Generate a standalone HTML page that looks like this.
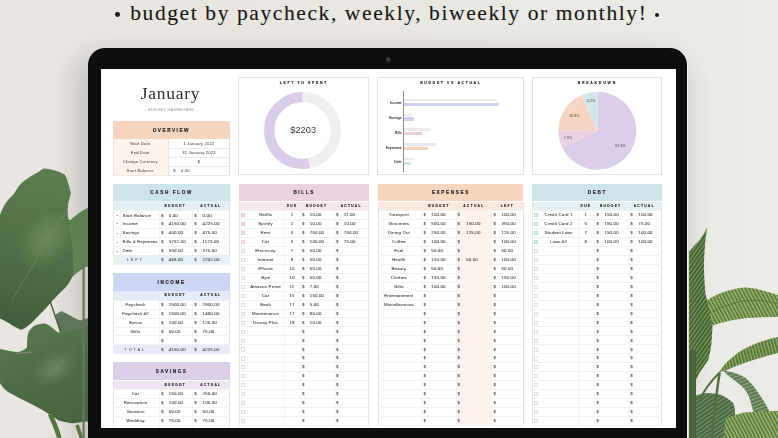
<!DOCTYPE html><html><head><meta charset="utf-8"><style>
*{margin:0;padding:0;box-sizing:border-box}
html,body{width:778px;height:438px;overflow:hidden}
body{position:relative;font-family:'Liberation Sans', sans-serif;background:#e7e4df;}
.a{position:absolute}
.t{position:absolute;white-space:nowrap;line-height:1;color:#444}
.c{position:absolute;white-space:nowrap;text-align:center;color:#444}
.hd{position:absolute;font-weight:bold;color:#1c1c1c;text-align:center;white-space:nowrap}
</style></head><body>
<div class="a" style="left:0;top:0;width:778px;height:438px;background:linear-gradient(90deg,#e9e6e1 0%,#e9e6e1 30%,#eae8e3 60%,#ecebe7 100%)"></div>
<div class="t" id="title" style="left:130.2px;top:0.7px;font-family:'Liberation Serif', serif;font-size:21.5px;letter-spacing:1.6px;color:#161616;-webkit-text-stroke:0.12px #161616;line-height:24px">budget by paycheck, weekly, biweekly or monthly!</div>
<div class="a" style="left:115.1px;top:12.4px;width:4.8px;height:4.8px;border-radius:50%;background:#1a1a1a"></div>
<div class="a" style="left:654.6px;top:12.6px;width:4.8px;height:4.8px;border-radius:50%;background:#1a1a1a"></div>
<div class="a" style="left:88px;top:48px;width:599.5px;height:430px;border-radius:17px;box-shadow:-8px 12px 30px 3px rgba(70,62,55,0.24)"></div>
<div class="a" style="left:88.2px;top:47.6px;width:600.3px;height:431px;border-radius:17.5px;background:#f6f5f2"></div>
<div class="a" style="left:87.8px;top:48px;width:599.7px;height:430px;border-radius:17px;background:#0e0e0e"></div>
<div class="a" style="left:385.5px;top:57px;width:5.5px;height:5.5px;border-radius:50%;background:radial-gradient(circle at 40% 40%,#4a4a4a,#1c1c1c 70%)"></div>
<div class="a" style="left:101px;top:69px;width:575px;height:359px;background:#fff;overflow:hidden"><div class="a" style="left:-101px;top:-69px;width:778px;height:438px;filter:blur(0.3px)">
<div class="a" style="left:125.50px;top:83.10px;width:90.00px;height:21.00px;line-height:21.00px;font-size:17.5px;color:#2e2e2e;text-align:center;font-weight:normal;letter-spacing:0.75px;white-space:nowrap;font-family:'Liberation Serif', serif;">January</div>
<div class="a" style="left:136.40px;top:108.18px;width:70.00px;height:4.44px;line-height:4.44px;font-size:3.7px;color:#8a8a8a;text-align:center;font-weight:normal;letter-spacing:0.42px;white-space:nowrap;font-family:'Liberation Sans', sans-serif;">- BUDGET DASHBOARD -</div>
<div class="a" style="left:112.70px;top:121.30px;width:117.30px;height:17.70px;background:#f6d6c1;"></div>
<div class="a" style="left:121.35px;top:128.02px;width:100.00px;height:5.76px;line-height:5.76px;font-size:4.8px;color:#1c1c1c;text-align:center;font-weight:bold;letter-spacing:1.45px;white-space:nowrap;font-family:'Liberation Sans', sans-serif;-webkit-text-stroke:0.15px #1c1c1c">OVERVIEW</div>
<div class="a" style="left:112.70px;top:139.00px;width:55.10px;height:9.10px;background:#fdf3ee;"></div>
<div class="a" style="left:112.70px;top:147.50px;width:117.30px;height:0.60px;background:#f1e9e5;"></div>
<div class="a" style="left:110.20px;top:141.74px;width:60.00px;height:4.92px;line-height:4.92px;font-size:4.1px;color:#3a3a3a;text-align:center;font-weight:normal;letter-spacing:0.2px;white-space:nowrap;font-family:'Liberation Sans', sans-serif;">Start Date</div>
<div class="a" style="left:169.00px;top:141.74px;width:60.00px;height:4.92px;line-height:4.92px;font-size:4.1px;color:#3a3a3a;text-align:center;font-weight:normal;letter-spacing:0.2px;white-space:nowrap;font-family:'Liberation Sans', sans-serif;">1 January 2022</div>
<div class="a" style="left:112.70px;top:148.10px;width:55.10px;height:9.10px;background:#fdf3ee;"></div>
<div class="a" style="left:112.70px;top:156.60px;width:117.30px;height:0.60px;background:#f1e9e5;"></div>
<div class="a" style="left:110.20px;top:150.84px;width:60.00px;height:4.92px;line-height:4.92px;font-size:4.1px;color:#3a3a3a;text-align:center;font-weight:normal;letter-spacing:0.2px;white-space:nowrap;font-family:'Liberation Sans', sans-serif;">End Date</div>
<div class="a" style="left:169.00px;top:150.84px;width:60.00px;height:4.92px;line-height:4.92px;font-size:4.1px;color:#3a3a3a;text-align:center;font-weight:normal;letter-spacing:0.2px;white-space:nowrap;font-family:'Liberation Sans', sans-serif;">31 January 2023</div>
<div class="a" style="left:112.70px;top:157.20px;width:55.10px;height:9.10px;background:#fdf3ee;"></div>
<div class="a" style="left:112.70px;top:165.70px;width:117.30px;height:0.60px;background:#f1e9e5;"></div>
<div class="a" style="left:110.20px;top:159.94px;width:60.00px;height:4.92px;line-height:4.92px;font-size:4.1px;color:#3a3a3a;text-align:center;font-weight:normal;letter-spacing:0.2px;white-space:nowrap;font-family:'Liberation Sans', sans-serif;">Change Currency</div>
<div class="a" style="left:169.00px;top:159.94px;width:60.00px;height:4.92px;line-height:4.92px;font-size:4.1px;color:#3a3a3a;text-align:center;font-weight:normal;letter-spacing:0.2px;white-space:nowrap;font-family:'Liberation Sans', sans-serif;">$</div>
<div class="a" style="left:112.70px;top:166.30px;width:55.10px;height:9.10px;background:#fdf3ee;"></div>
<div class="a" style="left:112.70px;top:174.80px;width:117.30px;height:0.60px;background:#f1e9e5;"></div>
<div class="a" style="left:110.20px;top:169.04px;width:60.00px;height:4.92px;line-height:4.92px;font-size:4.1px;color:#3a3a3a;text-align:center;font-weight:normal;letter-spacing:0.2px;white-space:nowrap;font-family:'Liberation Sans', sans-serif;">Start Balance</div>
<div class="a" style="left:167.80px;top:139.00px;width:0.60px;height:36.40px;background:#efe4df;"></div>
<div class="a" style="left:112.70px;top:139.00px;width:0.60px;height:36.40px;background:#eee2dc;"></div>
<div class="a" style="left:229.40px;top:139.00px;width:0.60px;height:36.40px;background:#eee2dc;"></div>
<div class="a" style="left:171.50px;top:169.04px;width:6.00px;height:4.92px;line-height:4.92px;font-size:4.1px;color:#3a3a3a;text-align:center;font-weight:normal;letter-spacing:0px;white-space:nowrap;font-family:'Liberation Sans', sans-serif;">$</div>
<div class="a" style="left:181.00px;top:169.04px;width:20.00px;height:4.92px;line-height:4.92px;font-size:4.1px;color:#3a3a3a;text-align:left;font-weight:normal;letter-spacing:0.2px;white-space:nowrap;font-family:'Liberation Sans', sans-serif;">0.00</div>
<div class="a" style="left:238.30px;top:76.80px;width:130.40px;height:98.40px;border:0.8px solid #e3e3e3"></div>
<div class="a" style="left:377.00px;top:76.80px;width:146.80px;height:98.60px;border:0.8px solid #e3e3e3"></div>
<div class="a" style="left:532.00px;top:76.80px;width:130.00px;height:98.40px;border:0.8px solid #e3e3e3"></div>
<div class="a" style="left:263.80px;top:80.60px;width:80.00px;height:4.20px;line-height:4.20px;font-size:3.5px;color:#1c1c1c;text-align:center;font-weight:bold;letter-spacing:1.6px;white-space:nowrap;font-family:'Liberation Sans', sans-serif;-webkit-text-stroke:0.12px #1c1c1c">LEFT TO SPENT</div>
<div class="a" style="left:405.80px;top:80.60px;width:90.00px;height:4.20px;line-height:4.20px;font-size:3.5px;color:#1c1c1c;text-align:center;font-weight:bold;letter-spacing:1.6px;white-space:nowrap;font-family:'Liberation Sans', sans-serif;-webkit-text-stroke:0.12px #1c1c1c">BUDGET VS ACTUAL</div>
<div class="a" style="left:557.30px;top:80.60px;width:80.00px;height:4.20px;line-height:4.20px;font-size:3.5px;color:#1c1c1c;text-align:center;font-weight:bold;letter-spacing:1.75px;white-space:nowrap;font-family:'Liberation Sans', sans-serif;-webkit-text-stroke:0.12px #1c1c1c">BREAKDOWN</div>
<svg class="a" style="left:0;top:0" width="778" height="438" viewBox="0 0 778 438"><circle cx="302.5" cy="130.5" r="33.35" fill="none" stroke="#efefef" stroke-width="10.3"/><circle cx="302.5" cy="130.5" r="33.35" fill="none" stroke="#d9cdea" stroke-width="10.3" stroke-dasharray="111.06 209.54" transform="rotate(-90 302.5 130.5) scale(1,-1) translate(0,-261.0)" /></svg>
<div class="a" style="left:273.20px;top:125.02px;width:60.00px;height:11.16px;line-height:11.16px;font-size:9.3px;color:#3d3d3d;text-align:center;font-weight:normal;letter-spacing:0px;white-space:nowrap;font-family:'Liberation Sans', sans-serif;">$2203</div>
<div class="a" style="left:403.10px;top:91.00px;width:0.60px;height:81.00px;background:#8a8a8a;"></div>
<div class="a" style="left:361.60px;top:101.36px;width:40.00px;height:4.08px;line-height:4.08px;font-size:3.4px;color:#333;text-align:right;font-weight:normal;letter-spacing:0.12px;white-space:nowrap;font-family:'Liberation Sans', sans-serif;-webkit-text-stroke:0.1px #333">Income</div>
<div class="a" style="left:403.80px;top:98.80px;width:93.20px;height:2.70px;background:#ebebeb;"></div>
<div class="a" style="left:403.80px;top:102.50px;width:95.20px;height:3.30px;background:#c9d0f3;"></div>
<div class="a" style="left:361.60px;top:116.16px;width:40.00px;height:4.08px;line-height:4.08px;font-size:3.4px;color:#333;text-align:right;font-weight:normal;letter-spacing:0.12px;white-space:nowrap;font-family:'Liberation Sans', sans-serif;-webkit-text-stroke:0.1px #333">Savings</div>
<div class="a" style="left:403.80px;top:113.60px;width:8.20px;height:2.70px;background:#ebebeb;"></div>
<div class="a" style="left:403.80px;top:117.30px;width:10.20px;height:3.30px;background:#d9cdea;"></div>
<div class="a" style="left:361.60px;top:130.96px;width:40.00px;height:4.08px;line-height:4.08px;font-size:3.4px;color:#333;text-align:right;font-weight:normal;letter-spacing:0.12px;white-space:nowrap;font-family:'Liberation Sans', sans-serif;-webkit-text-stroke:0.1px #333">Bills</div>
<div class="a" style="left:403.80px;top:128.40px;width:27.70px;height:2.70px;background:#ebebeb;"></div>
<div class="a" style="left:403.80px;top:132.10px;width:18.20px;height:3.30px;background:#eccfdc;"></div>
<div class="a" style="left:361.60px;top:145.66px;width:40.00px;height:4.08px;line-height:4.08px;font-size:3.4px;color:#333;text-align:right;font-weight:normal;letter-spacing:0.12px;white-space:nowrap;font-family:'Liberation Sans', sans-serif;-webkit-text-stroke:0.1px #333">Expenses</div>
<div class="a" style="left:403.80px;top:143.10px;width:32.20px;height:2.70px;background:#ebebeb;"></div>
<div class="a" style="left:403.80px;top:146.80px;width:24.70px;height:3.30px;background:#f5d3bd;"></div>
<div class="a" style="left:361.60px;top:160.36px;width:40.00px;height:4.08px;line-height:4.08px;font-size:3.4px;color:#333;text-align:right;font-weight:normal;letter-spacing:0.12px;white-space:nowrap;font-family:'Liberation Sans', sans-serif;-webkit-text-stroke:0.1px #333">Debt</div>
<div class="a" style="left:403.80px;top:157.80px;width:11.20px;height:2.70px;background:#ebebeb;"></div>
<div class="a" style="left:403.80px;top:161.50px;width:7.70px;height:3.30px;background:#cfe5ea;"></div>
<svg class="a" style="left:0;top:0" width="778" height="438" viewBox="0 0 778 438"><path d="M597.4,130.7 L597.40,91.70 A39.0,39.0 0 1 1 562.32,147.74 Z" fill="#dccfea"/><path d="M597.4,130.7 L562.32,147.74 A39.0,39.0 0 0 1 558.40,130.70 Z" fill="#ecd3e3"/><path d="M597.4,130.7 L558.40,130.70 A39.0,39.0 0 0 1 581.85,94.93 Z" fill="#f6d6c2"/><path d="M597.4,130.7 L581.85,94.93 A39.0,39.0 0 0 1 597.40,91.70 Z" fill="#d1e7ec"/></svg>
<div class="a" style="left:561.00px;top:99.04px;width:60.00px;height:4.32px;line-height:4.32px;font-size:3.6px;color:#444;text-align:center;font-weight:normal;letter-spacing:0.1px;white-space:nowrap;font-family:'Liberation Sans', sans-serif;">6.2%</div>
<div class="a" style="left:544.30px;top:114.04px;width:60.00px;height:4.32px;line-height:4.32px;font-size:3.6px;color:#444;text-align:center;font-weight:normal;letter-spacing:0.1px;white-space:nowrap;font-family:'Liberation Sans', sans-serif;">18.8%</div>
<div class="a" style="left:538.00px;top:136.24px;width:60.00px;height:4.32px;line-height:4.32px;font-size:3.6px;color:#444;text-align:center;font-weight:normal;letter-spacing:0.1px;white-space:nowrap;font-family:'Liberation Sans', sans-serif;">7.8%</div>
<div class="a" style="left:590.50px;top:143.74px;width:60.00px;height:4.32px;line-height:4.32px;font-size:3.6px;color:#444;text-align:center;font-weight:normal;letter-spacing:0.1px;white-space:nowrap;font-family:'Liberation Sans', sans-serif;">67.8%</div>
<div class="a" style="left:112.50px;top:183.80px;width:117.30px;height:17.60px;background:#cde4ea;"></div>
<div class="a" style="left:111.65px;top:190.44px;width:120.00px;height:5.52px;line-height:5.52px;font-size:4.6px;color:#1c1c1c;text-align:center;font-weight:bold;letter-spacing:1.65px;white-space:nowrap;font-family:'Liberation Sans', sans-serif;-webkit-text-stroke:0.15px #1c1c1c">CASH FLOW</div>
<div class="a" style="left:112.50px;top:201.40px;width:117.30px;height:9.20px;background:#e4f0f4;"></div>
<div class="a" style="left:112.50px;top:201.40px;width:0.60px;height:62.84px;background:#e4e4e4;"></div>
<div class="a" style="left:229.20px;top:201.40px;width:0.60px;height:62.84px;background:#e4e4e4;"></div>
<div class="a" style="left:112.50px;top:210.30px;width:117.30px;height:0.60px;background:#f3f3f3;"></div>
<div class="a" style="left:112.50px;top:219.24px;width:117.30px;height:0.60px;background:#f3f3f3;"></div>
<div class="a" style="left:112.50px;top:228.18px;width:117.30px;height:0.60px;background:#f3f3f3;"></div>
<div class="a" style="left:112.50px;top:237.12px;width:117.30px;height:0.60px;background:#f3f3f3;"></div>
<div class="a" style="left:112.50px;top:246.06px;width:117.30px;height:0.60px;background:#f3f3f3;"></div>
<div class="a" style="left:112.50px;top:255.00px;width:117.30px;height:0.60px;background:#f3f3f3;"></div>
<div class="a" style="left:112.50px;top:263.94px;width:117.30px;height:0.60px;background:#f3f3f3;"></div>
<div class="a" style="left:159.10px;top:210.60px;width:0.60px;height:53.64px;background:#f3f3f3;"></div>
<div class="a" style="left:192.40px;top:210.60px;width:0.60px;height:53.64px;background:#f3f3f3;"></div>
<div class="a" style="left:155.20px;top:204.92px;width:40.00px;height:3.96px;line-height:3.96px;font-size:3.3px;color:#1c1c1c;text-align:center;font-weight:bold;letter-spacing:1.25px;white-space:nowrap;font-family:'Liberation Sans', sans-serif;-webkit-text-stroke:0.1px #1c1c1c">BUDGET</div>
<div class="a" style="left:190.80px;top:204.92px;width:40.00px;height:3.96px;line-height:3.96px;font-size:3.3px;color:#1c1c1c;text-align:center;font-weight:bold;letter-spacing:1.25px;white-space:nowrap;font-family:'Liberation Sans', sans-serif;-webkit-text-stroke:0.1px #1c1c1c">ACTUAL</div>
<div class="a" style="left:112.50px;top:255.30px;width:117.30px;height:8.94px;background:#e4f0f4;"></div>
<div class="a" style="left:112.50px;top:210.30px;width:117.30px;height:0.60px;background:#f3f3f3;"></div>
<div class="a" style="left:112.50px;top:219.24px;width:117.30px;height:0.60px;background:#f3f3f3;"></div>
<div class="a" style="left:112.50px;top:228.18px;width:117.30px;height:0.60px;background:#f3f3f3;"></div>
<div class="a" style="left:112.50px;top:237.12px;width:117.30px;height:0.60px;background:#f3f3f3;"></div>
<div class="a" style="left:112.50px;top:246.06px;width:117.30px;height:0.60px;background:#f3f3f3;"></div>
<div class="a" style="left:120.00px;top:210.60px;width:0.60px;height:44.70px;background:#f3f3f3;"></div>
<div class="a" style="left:114.30px;top:212.53px;width:6.00px;height:5.28px;line-height:5.28px;font-size:4.4px;color:#666;text-align:center;font-weight:normal;letter-spacing:0.15px;white-space:nowrap;font-family:'Liberation Sans', sans-serif;-webkit-text-stroke:0.07px #666">&#8226;</div>
<div class="a" style="left:122.60px;top:212.53px;width:40.00px;height:5.28px;line-height:5.28px;font-size:4.4px;color:#424242;text-align:left;font-weight:normal;letter-spacing:0.15px;white-space:nowrap;font-family:'Liberation Sans', sans-serif;-webkit-text-stroke:0.07px #424242">Start Balance</div>
<div class="a" style="left:159.30px;top:212.53px;width:6.00px;height:5.28px;line-height:5.28px;font-size:4.4px;color:#424242;text-align:center;font-weight:normal;letter-spacing:0.15px;white-space:nowrap;font-family:'Liberation Sans', sans-serif;-webkit-text-stroke:0.07px #424242">$</div>
<div class="a" style="left:168.80px;top:212.53px;width:24.00px;height:5.28px;line-height:5.28px;font-size:4.4px;color:#424242;text-align:left;font-weight:normal;letter-spacing:0.15px;white-space:nowrap;font-family:'Liberation Sans', sans-serif;-webkit-text-stroke:0.07px #424242">0.00</div>
<div class="a" style="left:192.60px;top:212.53px;width:6.00px;height:5.28px;line-height:5.28px;font-size:4.4px;color:#424242;text-align:center;font-weight:normal;letter-spacing:0.15px;white-space:nowrap;font-family:'Liberation Sans', sans-serif;-webkit-text-stroke:0.07px #424242">$</div>
<div class="a" style="left:202.60px;top:212.53px;width:24.00px;height:5.28px;line-height:5.28px;font-size:4.4px;color:#424242;text-align:left;font-weight:normal;letter-spacing:0.15px;white-space:nowrap;font-family:'Liberation Sans', sans-serif;-webkit-text-stroke:0.07px #424242">0.00</div>
<div class="a" style="left:114.30px;top:221.47px;width:6.00px;height:5.28px;line-height:5.28px;font-size:4.4px;color:#666;text-align:center;font-weight:normal;letter-spacing:0.15px;white-space:nowrap;font-family:'Liberation Sans', sans-serif;-webkit-text-stroke:0.07px #666">&#8226;</div>
<div class="a" style="left:122.60px;top:221.47px;width:40.00px;height:5.28px;line-height:5.28px;font-size:4.4px;color:#424242;text-align:left;font-weight:normal;letter-spacing:0.15px;white-space:nowrap;font-family:'Liberation Sans', sans-serif;-webkit-text-stroke:0.07px #424242">Income</div>
<div class="a" style="left:159.30px;top:221.47px;width:6.00px;height:5.28px;line-height:5.28px;font-size:4.4px;color:#424242;text-align:center;font-weight:normal;letter-spacing:0.15px;white-space:nowrap;font-family:'Liberation Sans', sans-serif;-webkit-text-stroke:0.07px #424242">$</div>
<div class="a" style="left:168.80px;top:221.47px;width:24.00px;height:5.28px;line-height:5.28px;font-size:4.4px;color:#424242;text-align:left;font-weight:normal;letter-spacing:0.15px;white-space:nowrap;font-family:'Liberation Sans', sans-serif;-webkit-text-stroke:0.07px #424242">4150.00</div>
<div class="a" style="left:192.60px;top:221.47px;width:6.00px;height:5.28px;line-height:5.28px;font-size:4.4px;color:#424242;text-align:center;font-weight:normal;letter-spacing:0.15px;white-space:nowrap;font-family:'Liberation Sans', sans-serif;-webkit-text-stroke:0.07px #424242">$</div>
<div class="a" style="left:202.60px;top:221.47px;width:24.00px;height:5.28px;line-height:5.28px;font-size:4.4px;color:#424242;text-align:left;font-weight:normal;letter-spacing:0.15px;white-space:nowrap;font-family:'Liberation Sans', sans-serif;-webkit-text-stroke:0.07px #424242">4225.00</div>
<div class="a" style="left:114.30px;top:230.41px;width:6.00px;height:5.28px;line-height:5.28px;font-size:4.4px;color:#666;text-align:center;font-weight:normal;letter-spacing:0.15px;white-space:nowrap;font-family:'Liberation Sans', sans-serif;-webkit-text-stroke:0.07px #666">-</div>
<div class="a" style="left:122.60px;top:230.41px;width:40.00px;height:5.28px;line-height:5.28px;font-size:4.4px;color:#424242;text-align:left;font-weight:normal;letter-spacing:0.15px;white-space:nowrap;font-family:'Liberation Sans', sans-serif;-webkit-text-stroke:0.07px #424242">Savings</div>
<div class="a" style="left:159.30px;top:230.41px;width:6.00px;height:5.28px;line-height:5.28px;font-size:4.4px;color:#424242;text-align:center;font-weight:normal;letter-spacing:0.15px;white-space:nowrap;font-family:'Liberation Sans', sans-serif;-webkit-text-stroke:0.07px #424242">$</div>
<div class="a" style="left:168.80px;top:230.41px;width:24.00px;height:5.28px;line-height:5.28px;font-size:4.4px;color:#424242;text-align:left;font-weight:normal;letter-spacing:0.15px;white-space:nowrap;font-family:'Liberation Sans', sans-serif;-webkit-text-stroke:0.07px #424242">400.00</div>
<div class="a" style="left:192.60px;top:230.41px;width:6.00px;height:5.28px;line-height:5.28px;font-size:4.4px;color:#424242;text-align:center;font-weight:normal;letter-spacing:0.15px;white-space:nowrap;font-family:'Liberation Sans', sans-serif;-webkit-text-stroke:0.07px #424242">$</div>
<div class="a" style="left:202.60px;top:230.41px;width:24.00px;height:5.28px;line-height:5.28px;font-size:4.4px;color:#424242;text-align:left;font-weight:normal;letter-spacing:0.15px;white-space:nowrap;font-family:'Liberation Sans', sans-serif;-webkit-text-stroke:0.07px #424242">475.00</div>
<div class="a" style="left:114.30px;top:239.35px;width:6.00px;height:5.28px;line-height:5.28px;font-size:4.4px;color:#666;text-align:center;font-weight:normal;letter-spacing:0.15px;white-space:nowrap;font-family:'Liberation Sans', sans-serif;-webkit-text-stroke:0.07px #666">-</div>
<div class="a" style="left:122.60px;top:239.35px;width:40.00px;height:5.28px;line-height:5.28px;font-size:4.4px;color:#424242;text-align:left;font-weight:normal;letter-spacing:0.15px;white-space:nowrap;font-family:'Liberation Sans', sans-serif;-webkit-text-stroke:0.07px #424242">Bills &amp; Expenses</div>
<div class="a" style="left:159.30px;top:239.35px;width:6.00px;height:5.28px;line-height:5.28px;font-size:4.4px;color:#424242;text-align:center;font-weight:normal;letter-spacing:0.15px;white-space:nowrap;font-family:'Liberation Sans', sans-serif;-webkit-text-stroke:0.07px #424242">$</div>
<div class="a" style="left:168.80px;top:239.35px;width:24.00px;height:5.28px;line-height:5.28px;font-size:4.4px;color:#424242;text-align:left;font-weight:normal;letter-spacing:0.15px;white-space:nowrap;font-family:'Liberation Sans', sans-serif;-webkit-text-stroke:0.07px #424242">3732.00</div>
<div class="a" style="left:192.60px;top:239.35px;width:6.00px;height:5.28px;line-height:5.28px;font-size:4.4px;color:#424242;text-align:center;font-weight:normal;letter-spacing:0.15px;white-space:nowrap;font-family:'Liberation Sans', sans-serif;-webkit-text-stroke:0.07px #424242">$</div>
<div class="a" style="left:202.60px;top:239.35px;width:24.00px;height:5.28px;line-height:5.28px;font-size:4.4px;color:#424242;text-align:left;font-weight:normal;letter-spacing:0.15px;white-space:nowrap;font-family:'Liberation Sans', sans-serif;-webkit-text-stroke:0.07px #424242">1173.00</div>
<div class="a" style="left:114.30px;top:248.29px;width:6.00px;height:5.28px;line-height:5.28px;font-size:4.4px;color:#666;text-align:center;font-weight:normal;letter-spacing:0.15px;white-space:nowrap;font-family:'Liberation Sans', sans-serif;-webkit-text-stroke:0.07px #666">-</div>
<div class="a" style="left:122.60px;top:248.29px;width:40.00px;height:5.28px;line-height:5.28px;font-size:4.4px;color:#424242;text-align:left;font-weight:normal;letter-spacing:0.15px;white-space:nowrap;font-family:'Liberation Sans', sans-serif;-webkit-text-stroke:0.07px #424242">Debt</div>
<div class="a" style="left:159.30px;top:248.29px;width:6.00px;height:5.28px;line-height:5.28px;font-size:4.4px;color:#424242;text-align:center;font-weight:normal;letter-spacing:0.15px;white-space:nowrap;font-family:'Liberation Sans', sans-serif;-webkit-text-stroke:0.07px #424242">$</div>
<div class="a" style="left:168.80px;top:248.29px;width:24.00px;height:5.28px;line-height:5.28px;font-size:4.4px;color:#424242;text-align:left;font-weight:normal;letter-spacing:0.15px;white-space:nowrap;font-family:'Liberation Sans', sans-serif;-webkit-text-stroke:0.07px #424242">550.00</div>
<div class="a" style="left:192.60px;top:248.29px;width:6.00px;height:5.28px;line-height:5.28px;font-size:4.4px;color:#424242;text-align:center;font-weight:normal;letter-spacing:0.15px;white-space:nowrap;font-family:'Liberation Sans', sans-serif;-webkit-text-stroke:0.07px #424242">$</div>
<div class="a" style="left:202.60px;top:248.29px;width:24.00px;height:5.28px;line-height:5.28px;font-size:4.4px;color:#424242;text-align:left;font-weight:normal;letter-spacing:0.15px;white-space:nowrap;font-family:'Liberation Sans', sans-serif;-webkit-text-stroke:0.07px #424242">375.00</div>
<div class="a" style="left:115.30px;top:258.29px;width:40.00px;height:4.56px;line-height:4.56px;font-size:3.8px;color:#333;text-align:center;font-weight:normal;letter-spacing:1.9px;white-space:nowrap;font-family:'Liberation Sans', sans-serif;">LEFT</div>
<div class="a" style="left:159.30px;top:257.23px;width:6.00px;height:5.28px;line-height:5.28px;font-size:4.4px;color:#424242;text-align:center;font-weight:normal;letter-spacing:0.15px;white-space:nowrap;font-family:'Liberation Sans', sans-serif;-webkit-text-stroke:0.07px #424242">$</div>
<div class="a" style="left:168.80px;top:257.23px;width:24.00px;height:5.28px;line-height:5.28px;font-size:4.4px;color:#424242;text-align:left;font-weight:normal;letter-spacing:0.15px;white-space:nowrap;font-family:'Liberation Sans', sans-serif;-webkit-text-stroke:0.07px #424242">468.00</div>
<div class="a" style="left:192.60px;top:257.23px;width:6.00px;height:5.28px;line-height:5.28px;font-size:4.4px;color:#424242;text-align:center;font-weight:normal;letter-spacing:0.15px;white-space:nowrap;font-family:'Liberation Sans', sans-serif;-webkit-text-stroke:0.07px #424242">$</div>
<div class="a" style="left:202.60px;top:257.23px;width:24.00px;height:5.28px;line-height:5.28px;font-size:4.4px;color:#424242;text-align:left;font-weight:normal;letter-spacing:0.15px;white-space:nowrap;font-family:'Liberation Sans', sans-serif;-webkit-text-stroke:0.07px #424242">2202.00</div>
<div class="a" style="left:112.50px;top:272.90px;width:117.30px;height:17.90px;background:#cdd6f5;"></div>
<div class="a" style="left:111.65px;top:279.69px;width:120.00px;height:5.52px;line-height:5.52px;font-size:4.6px;color:#1c1c1c;text-align:center;font-weight:bold;letter-spacing:1.65px;white-space:nowrap;font-family:'Liberation Sans', sans-serif;-webkit-text-stroke:0.15px #1c1c1c">INCOME</div>
<div class="a" style="left:112.50px;top:290.80px;width:117.30px;height:9.20px;background:#e7eaf8;"></div>
<div class="a" style="left:112.50px;top:290.80px;width:0.60px;height:62.84px;background:#e4e4e4;"></div>
<div class="a" style="left:229.20px;top:290.80px;width:0.60px;height:62.84px;background:#e4e4e4;"></div>
<div class="a" style="left:112.50px;top:299.70px;width:117.30px;height:0.60px;background:#f3f3f3;"></div>
<div class="a" style="left:112.50px;top:308.64px;width:117.30px;height:0.60px;background:#f3f3f3;"></div>
<div class="a" style="left:112.50px;top:317.58px;width:117.30px;height:0.60px;background:#f3f3f3;"></div>
<div class="a" style="left:112.50px;top:326.52px;width:117.30px;height:0.60px;background:#f3f3f3;"></div>
<div class="a" style="left:112.50px;top:335.46px;width:117.30px;height:0.60px;background:#f3f3f3;"></div>
<div class="a" style="left:112.50px;top:344.40px;width:117.30px;height:0.60px;background:#f3f3f3;"></div>
<div class="a" style="left:112.50px;top:353.34px;width:117.30px;height:0.60px;background:#f3f3f3;"></div>
<div class="a" style="left:159.10px;top:300.00px;width:0.60px;height:53.64px;background:#f3f3f3;"></div>
<div class="a" style="left:192.40px;top:300.00px;width:0.60px;height:53.64px;background:#f3f3f3;"></div>
<div class="a" style="left:155.20px;top:294.32px;width:40.00px;height:3.96px;line-height:3.96px;font-size:3.3px;color:#1c1c1c;text-align:center;font-weight:bold;letter-spacing:1.25px;white-space:nowrap;font-family:'Liberation Sans', sans-serif;-webkit-text-stroke:0.1px #1c1c1c">BUDGET</div>
<div class="a" style="left:190.80px;top:294.32px;width:40.00px;height:3.96px;line-height:3.96px;font-size:3.3px;color:#1c1c1c;text-align:center;font-weight:bold;letter-spacing:1.25px;white-space:nowrap;font-family:'Liberation Sans', sans-serif;-webkit-text-stroke:0.1px #1c1c1c">ACTUAL</div>
<div class="a" style="left:112.50px;top:344.70px;width:117.30px;height:8.94px;background:#e7eaf8;"></div>
<div class="a" style="left:112.50px;top:299.70px;width:117.30px;height:0.60px;background:#f3f3f3;"></div>
<div class="a" style="left:112.50px;top:308.64px;width:117.30px;height:0.60px;background:#f3f3f3;"></div>
<div class="a" style="left:112.50px;top:317.58px;width:117.30px;height:0.60px;background:#f3f3f3;"></div>
<div class="a" style="left:112.50px;top:326.52px;width:117.30px;height:0.60px;background:#f3f3f3;"></div>
<div class="a" style="left:112.50px;top:335.46px;width:117.30px;height:0.60px;background:#f3f3f3;"></div>
<div class="a" style="left:115.50px;top:301.93px;width:40.00px;height:5.28px;line-height:5.28px;font-size:4.4px;color:#424242;text-align:center;font-weight:normal;letter-spacing:0.15px;white-space:nowrap;font-family:'Liberation Sans', sans-serif;-webkit-text-stroke:0.07px #424242">Paycheck</div>
<div class="a" style="left:159.30px;top:301.93px;width:6.00px;height:5.28px;line-height:5.28px;font-size:4.4px;color:#424242;text-align:center;font-weight:normal;letter-spacing:0.15px;white-space:nowrap;font-family:'Liberation Sans', sans-serif;-webkit-text-stroke:0.07px #424242">$</div>
<div class="a" style="left:168.80px;top:301.93px;width:24.00px;height:5.28px;line-height:5.28px;font-size:4.4px;color:#424242;text-align:left;font-weight:normal;letter-spacing:0.15px;white-space:nowrap;font-family:'Liberation Sans', sans-serif;-webkit-text-stroke:0.07px #424242">2500.00</div>
<div class="a" style="left:192.60px;top:301.93px;width:6.00px;height:5.28px;line-height:5.28px;font-size:4.4px;color:#424242;text-align:center;font-weight:normal;letter-spacing:0.15px;white-space:nowrap;font-family:'Liberation Sans', sans-serif;-webkit-text-stroke:0.07px #424242">$</div>
<div class="a" style="left:202.60px;top:301.93px;width:24.00px;height:5.28px;line-height:5.28px;font-size:4.4px;color:#424242;text-align:left;font-weight:normal;letter-spacing:0.15px;white-space:nowrap;font-family:'Liberation Sans', sans-serif;-webkit-text-stroke:0.07px #424242">2800.00</div>
<div class="a" style="left:115.50px;top:310.87px;width:40.00px;height:5.28px;line-height:5.28px;font-size:4.4px;color:#424242;text-align:center;font-weight:normal;letter-spacing:0.15px;white-space:nowrap;font-family:'Liberation Sans', sans-serif;-webkit-text-stroke:0.07px #424242">Paycheck #2</div>
<div class="a" style="left:159.30px;top:310.87px;width:6.00px;height:5.28px;line-height:5.28px;font-size:4.4px;color:#424242;text-align:center;font-weight:normal;letter-spacing:0.15px;white-space:nowrap;font-family:'Liberation Sans', sans-serif;-webkit-text-stroke:0.07px #424242">$</div>
<div class="a" style="left:168.80px;top:310.87px;width:24.00px;height:5.28px;line-height:5.28px;font-size:4.4px;color:#424242;text-align:left;font-weight:normal;letter-spacing:0.15px;white-space:nowrap;font-family:'Liberation Sans', sans-serif;-webkit-text-stroke:0.07px #424242">1500.00</div>
<div class="a" style="left:192.60px;top:310.87px;width:6.00px;height:5.28px;line-height:5.28px;font-size:4.4px;color:#424242;text-align:center;font-weight:normal;letter-spacing:0.15px;white-space:nowrap;font-family:'Liberation Sans', sans-serif;-webkit-text-stroke:0.07px #424242">$</div>
<div class="a" style="left:202.60px;top:310.87px;width:24.00px;height:5.28px;line-height:5.28px;font-size:4.4px;color:#424242;text-align:left;font-weight:normal;letter-spacing:0.15px;white-space:nowrap;font-family:'Liberation Sans', sans-serif;-webkit-text-stroke:0.07px #424242">1400.00</div>
<div class="a" style="left:115.50px;top:319.81px;width:40.00px;height:5.28px;line-height:5.28px;font-size:4.4px;color:#424242;text-align:center;font-weight:normal;letter-spacing:0.15px;white-space:nowrap;font-family:'Liberation Sans', sans-serif;-webkit-text-stroke:0.07px #424242">Bonus</div>
<div class="a" style="left:159.30px;top:319.81px;width:6.00px;height:5.28px;line-height:5.28px;font-size:4.4px;color:#424242;text-align:center;font-weight:normal;letter-spacing:0.15px;white-space:nowrap;font-family:'Liberation Sans', sans-serif;-webkit-text-stroke:0.07px #424242">$</div>
<div class="a" style="left:168.80px;top:319.81px;width:24.00px;height:5.28px;line-height:5.28px;font-size:4.4px;color:#424242;text-align:left;font-weight:normal;letter-spacing:0.15px;white-space:nowrap;font-family:'Liberation Sans', sans-serif;-webkit-text-stroke:0.07px #424242">100.00</div>
<div class="a" style="left:192.60px;top:319.81px;width:6.00px;height:5.28px;line-height:5.28px;font-size:4.4px;color:#424242;text-align:center;font-weight:normal;letter-spacing:0.15px;white-space:nowrap;font-family:'Liberation Sans', sans-serif;-webkit-text-stroke:0.07px #424242">$</div>
<div class="a" style="left:202.60px;top:319.81px;width:24.00px;height:5.28px;line-height:5.28px;font-size:4.4px;color:#424242;text-align:left;font-weight:normal;letter-spacing:0.15px;white-space:nowrap;font-family:'Liberation Sans', sans-serif;-webkit-text-stroke:0.07px #424242">120.00</div>
<div class="a" style="left:115.50px;top:328.75px;width:40.00px;height:5.28px;line-height:5.28px;font-size:4.4px;color:#424242;text-align:center;font-weight:normal;letter-spacing:0.15px;white-space:nowrap;font-family:'Liberation Sans', sans-serif;-webkit-text-stroke:0.07px #424242">Gifts</div>
<div class="a" style="left:159.30px;top:328.75px;width:6.00px;height:5.28px;line-height:5.28px;font-size:4.4px;color:#424242;text-align:center;font-weight:normal;letter-spacing:0.15px;white-space:nowrap;font-family:'Liberation Sans', sans-serif;-webkit-text-stroke:0.07px #424242">$</div>
<div class="a" style="left:168.80px;top:328.75px;width:24.00px;height:5.28px;line-height:5.28px;font-size:4.4px;color:#424242;text-align:left;font-weight:normal;letter-spacing:0.15px;white-space:nowrap;font-family:'Liberation Sans', sans-serif;-webkit-text-stroke:0.07px #424242">50.00</div>
<div class="a" style="left:192.60px;top:328.75px;width:6.00px;height:5.28px;line-height:5.28px;font-size:4.4px;color:#424242;text-align:center;font-weight:normal;letter-spacing:0.15px;white-space:nowrap;font-family:'Liberation Sans', sans-serif;-webkit-text-stroke:0.07px #424242">$</div>
<div class="a" style="left:202.60px;top:328.75px;width:24.00px;height:5.28px;line-height:5.28px;font-size:4.4px;color:#424242;text-align:left;font-weight:normal;letter-spacing:0.15px;white-space:nowrap;font-family:'Liberation Sans', sans-serif;-webkit-text-stroke:0.07px #424242">75.00</div>
<div class="a" style="left:159.30px;top:337.69px;width:6.00px;height:5.28px;line-height:5.28px;font-size:4.4px;color:#424242;text-align:center;font-weight:normal;letter-spacing:0.15px;white-space:nowrap;font-family:'Liberation Sans', sans-serif;-webkit-text-stroke:0.07px #424242">$</div>
<div class="a" style="left:168.80px;top:337.69px;width:24.00px;height:5.28px;line-height:5.28px;font-size:4.4px;color:#424242;text-align:left;font-weight:normal;letter-spacing:0.15px;white-space:nowrap;font-family:'Liberation Sans', sans-serif;-webkit-text-stroke:0.07px #424242"></div>
<div class="a" style="left:192.60px;top:337.69px;width:6.00px;height:5.28px;line-height:5.28px;font-size:4.4px;color:#424242;text-align:center;font-weight:normal;letter-spacing:0.15px;white-space:nowrap;font-family:'Liberation Sans', sans-serif;-webkit-text-stroke:0.07px #424242">$</div>
<div class="a" style="left:202.60px;top:337.69px;width:24.00px;height:5.28px;line-height:5.28px;font-size:4.4px;color:#424242;text-align:left;font-weight:normal;letter-spacing:0.15px;white-space:nowrap;font-family:'Liberation Sans', sans-serif;-webkit-text-stroke:0.07px #424242"></div>
<div class="a" style="left:115.30px;top:347.69px;width:40.00px;height:4.56px;line-height:4.56px;font-size:3.8px;color:#333;text-align:center;font-weight:normal;letter-spacing:1.9px;white-space:nowrap;font-family:'Liberation Sans', sans-serif;">TOTAL</div>
<div class="a" style="left:159.30px;top:346.63px;width:6.00px;height:5.28px;line-height:5.28px;font-size:4.4px;color:#424242;text-align:center;font-weight:normal;letter-spacing:0.15px;white-space:nowrap;font-family:'Liberation Sans', sans-serif;-webkit-text-stroke:0.07px #424242">$</div>
<div class="a" style="left:168.80px;top:346.63px;width:24.00px;height:5.28px;line-height:5.28px;font-size:4.4px;color:#424242;text-align:left;font-weight:normal;letter-spacing:0.15px;white-space:nowrap;font-family:'Liberation Sans', sans-serif;-webkit-text-stroke:0.07px #424242">4150.00</div>
<div class="a" style="left:192.60px;top:346.63px;width:6.00px;height:5.28px;line-height:5.28px;font-size:4.4px;color:#424242;text-align:center;font-weight:normal;letter-spacing:0.15px;white-space:nowrap;font-family:'Liberation Sans', sans-serif;-webkit-text-stroke:0.07px #424242">$</div>
<div class="a" style="left:202.60px;top:346.63px;width:24.00px;height:5.28px;line-height:5.28px;font-size:4.4px;color:#424242;text-align:left;font-weight:normal;letter-spacing:0.15px;white-space:nowrap;font-family:'Liberation Sans', sans-serif;-webkit-text-stroke:0.07px #424242">4225.00</div>
<div class="a" style="left:112.50px;top:362.20px;width:117.30px;height:18.30px;background:#dccfea;"></div>
<div class="a" style="left:111.65px;top:369.19px;width:120.00px;height:5.52px;line-height:5.52px;font-size:4.6px;color:#1c1c1c;text-align:center;font-weight:bold;letter-spacing:1.65px;white-space:nowrap;font-family:'Liberation Sans', sans-serif;-webkit-text-stroke:0.15px #1c1c1c">SAVINGS</div>
<div class="a" style="left:112.50px;top:380.50px;width:117.30px;height:8.80px;background:#ede5f3;"></div>
<div class="a" style="left:112.50px;top:380.50px;width:0.60px;height:53.50px;background:#e4e4e4;"></div>
<div class="a" style="left:229.20px;top:380.50px;width:0.60px;height:53.50px;background:#e4e4e4;"></div>
<div class="a" style="left:112.50px;top:389.00px;width:117.30px;height:0.60px;background:#f3f3f3;"></div>
<div class="a" style="left:112.50px;top:397.94px;width:117.30px;height:0.60px;background:#f3f3f3;"></div>
<div class="a" style="left:112.50px;top:406.88px;width:117.30px;height:0.60px;background:#f3f3f3;"></div>
<div class="a" style="left:112.50px;top:415.82px;width:117.30px;height:0.60px;background:#f3f3f3;"></div>
<div class="a" style="left:112.50px;top:424.76px;width:117.30px;height:0.60px;background:#f3f3f3;"></div>
<div class="a" style="left:112.50px;top:433.70px;width:117.30px;height:0.60px;background:#f3f3f3;"></div>
<div class="a" style="left:159.10px;top:389.30px;width:0.60px;height:44.70px;background:#f3f3f3;"></div>
<div class="a" style="left:192.40px;top:389.30px;width:0.60px;height:44.70px;background:#f3f3f3;"></div>
<div class="a" style="left:155.20px;top:383.82px;width:40.00px;height:3.96px;line-height:3.96px;font-size:3.3px;color:#1c1c1c;text-align:center;font-weight:bold;letter-spacing:1.25px;white-space:nowrap;font-family:'Liberation Sans', sans-serif;-webkit-text-stroke:0.1px #1c1c1c">BUDGET</div>
<div class="a" style="left:190.80px;top:383.82px;width:40.00px;height:3.96px;line-height:3.96px;font-size:3.3px;color:#1c1c1c;text-align:center;font-weight:bold;letter-spacing:1.25px;white-space:nowrap;font-family:'Liberation Sans', sans-serif;-webkit-text-stroke:0.1px #1c1c1c">ACTUAL</div>
<div class="a" style="left:115.50px;top:391.23px;width:40.00px;height:5.28px;line-height:5.28px;font-size:4.4px;color:#424242;text-align:center;font-weight:normal;letter-spacing:0.15px;white-space:nowrap;font-family:'Liberation Sans', sans-serif;-webkit-text-stroke:0.07px #424242">Car</div>
<div class="a" style="left:159.30px;top:391.23px;width:6.00px;height:5.28px;line-height:5.28px;font-size:4.4px;color:#424242;text-align:center;font-weight:normal;letter-spacing:0.15px;white-space:nowrap;font-family:'Liberation Sans', sans-serif;-webkit-text-stroke:0.07px #424242">$</div>
<div class="a" style="left:168.80px;top:391.23px;width:24.00px;height:5.28px;line-height:5.28px;font-size:4.4px;color:#424242;text-align:left;font-weight:normal;letter-spacing:0.15px;white-space:nowrap;font-family:'Liberation Sans', sans-serif;-webkit-text-stroke:0.07px #424242">150.00</div>
<div class="a" style="left:192.60px;top:391.23px;width:6.00px;height:5.28px;line-height:5.28px;font-size:4.4px;color:#424242;text-align:center;font-weight:normal;letter-spacing:0.15px;white-space:nowrap;font-family:'Liberation Sans', sans-serif;-webkit-text-stroke:0.07px #424242">$</div>
<div class="a" style="left:202.60px;top:391.23px;width:24.00px;height:5.28px;line-height:5.28px;font-size:4.4px;color:#424242;text-align:left;font-weight:normal;letter-spacing:0.15px;white-space:nowrap;font-family:'Liberation Sans', sans-serif;-webkit-text-stroke:0.07px #424242">250.00</div>
<div class="a" style="left:115.50px;top:400.17px;width:40.00px;height:5.28px;line-height:5.28px;font-size:4.4px;color:#424242;text-align:center;font-weight:normal;letter-spacing:0.15px;white-space:nowrap;font-family:'Liberation Sans', sans-serif;-webkit-text-stroke:0.07px #424242">Renovation</div>
<div class="a" style="left:159.30px;top:400.17px;width:6.00px;height:5.28px;line-height:5.28px;font-size:4.4px;color:#424242;text-align:center;font-weight:normal;letter-spacing:0.15px;white-space:nowrap;font-family:'Liberation Sans', sans-serif;-webkit-text-stroke:0.07px #424242">$</div>
<div class="a" style="left:168.80px;top:400.17px;width:24.00px;height:5.28px;line-height:5.28px;font-size:4.4px;color:#424242;text-align:left;font-weight:normal;letter-spacing:0.15px;white-space:nowrap;font-family:'Liberation Sans', sans-serif;-webkit-text-stroke:0.07px #424242">100.00</div>
<div class="a" style="left:192.60px;top:400.17px;width:6.00px;height:5.28px;line-height:5.28px;font-size:4.4px;color:#424242;text-align:center;font-weight:normal;letter-spacing:0.15px;white-space:nowrap;font-family:'Liberation Sans', sans-serif;-webkit-text-stroke:0.07px #424242">$</div>
<div class="a" style="left:202.60px;top:400.17px;width:24.00px;height:5.28px;line-height:5.28px;font-size:4.4px;color:#424242;text-align:left;font-weight:normal;letter-spacing:0.15px;white-space:nowrap;font-family:'Liberation Sans', sans-serif;-webkit-text-stroke:0.07px #424242">100.00</div>
<div class="a" style="left:115.50px;top:409.11px;width:40.00px;height:5.28px;line-height:5.28px;font-size:4.4px;color:#424242;text-align:center;font-weight:normal;letter-spacing:0.15px;white-space:nowrap;font-family:'Liberation Sans', sans-serif;-webkit-text-stroke:0.07px #424242">Vacation</div>
<div class="a" style="left:159.30px;top:409.11px;width:6.00px;height:5.28px;line-height:5.28px;font-size:4.4px;color:#424242;text-align:center;font-weight:normal;letter-spacing:0.15px;white-space:nowrap;font-family:'Liberation Sans', sans-serif;-webkit-text-stroke:0.07px #424242">$</div>
<div class="a" style="left:168.80px;top:409.11px;width:24.00px;height:5.28px;line-height:5.28px;font-size:4.4px;color:#424242;text-align:left;font-weight:normal;letter-spacing:0.15px;white-space:nowrap;font-family:'Liberation Sans', sans-serif;-webkit-text-stroke:0.07px #424242">50.00</div>
<div class="a" style="left:192.60px;top:409.11px;width:6.00px;height:5.28px;line-height:5.28px;font-size:4.4px;color:#424242;text-align:center;font-weight:normal;letter-spacing:0.15px;white-space:nowrap;font-family:'Liberation Sans', sans-serif;-webkit-text-stroke:0.07px #424242">$</div>
<div class="a" style="left:202.60px;top:409.11px;width:24.00px;height:5.28px;line-height:5.28px;font-size:4.4px;color:#424242;text-align:left;font-weight:normal;letter-spacing:0.15px;white-space:nowrap;font-family:'Liberation Sans', sans-serif;-webkit-text-stroke:0.07px #424242">50.00</div>
<div class="a" style="left:115.50px;top:418.05px;width:40.00px;height:5.28px;line-height:5.28px;font-size:4.4px;color:#424242;text-align:center;font-weight:normal;letter-spacing:0.15px;white-space:nowrap;font-family:'Liberation Sans', sans-serif;-webkit-text-stroke:0.07px #424242">Wedding</div>
<div class="a" style="left:159.30px;top:418.05px;width:6.00px;height:5.28px;line-height:5.28px;font-size:4.4px;color:#424242;text-align:center;font-weight:normal;letter-spacing:0.15px;white-space:nowrap;font-family:'Liberation Sans', sans-serif;-webkit-text-stroke:0.07px #424242">$</div>
<div class="a" style="left:168.80px;top:418.05px;width:24.00px;height:5.28px;line-height:5.28px;font-size:4.4px;color:#424242;text-align:left;font-weight:normal;letter-spacing:0.15px;white-space:nowrap;font-family:'Liberation Sans', sans-serif;-webkit-text-stroke:0.07px #424242">75.00</div>
<div class="a" style="left:192.60px;top:418.05px;width:6.00px;height:5.28px;line-height:5.28px;font-size:4.4px;color:#424242;text-align:center;font-weight:normal;letter-spacing:0.15px;white-space:nowrap;font-family:'Liberation Sans', sans-serif;-webkit-text-stroke:0.07px #424242">$</div>
<div class="a" style="left:202.60px;top:418.05px;width:24.00px;height:5.28px;line-height:5.28px;font-size:4.4px;color:#424242;text-align:left;font-weight:normal;letter-spacing:0.15px;white-space:nowrap;font-family:'Liberation Sans', sans-serif;-webkit-text-stroke:0.07px #424242">75.00</div>
<div class="a" style="left:159.30px;top:426.99px;width:6.00px;height:5.28px;line-height:5.28px;font-size:4.4px;color:#424242;text-align:center;font-weight:normal;letter-spacing:0.15px;white-space:nowrap;font-family:'Liberation Sans', sans-serif;-webkit-text-stroke:0.07px #424242">$</div>
<div class="a" style="left:168.80px;top:426.99px;width:24.00px;height:5.28px;line-height:5.28px;font-size:4.4px;color:#424242;text-align:left;font-weight:normal;letter-spacing:0.15px;white-space:nowrap;font-family:'Liberation Sans', sans-serif;-webkit-text-stroke:0.07px #424242"></div>
<div class="a" style="left:192.60px;top:426.99px;width:6.00px;height:5.28px;line-height:5.28px;font-size:4.4px;color:#424242;text-align:center;font-weight:normal;letter-spacing:0.15px;white-space:nowrap;font-family:'Liberation Sans', sans-serif;-webkit-text-stroke:0.07px #424242">$</div>
<div class="a" style="left:202.60px;top:426.99px;width:24.00px;height:5.28px;line-height:5.28px;font-size:4.4px;color:#424242;text-align:left;font-weight:normal;letter-spacing:0.15px;white-space:nowrap;font-family:'Liberation Sans', sans-serif;-webkit-text-stroke:0.07px #424242"></div>
<div class="a" style="left:238.60px;top:183.80px;width:130.10px;height:17.70px;background:#efd2df;"></div>
<div class="a" style="left:244.15px;top:190.49px;width:120.00px;height:5.52px;line-height:5.52px;font-size:4.6px;color:#1c1c1c;text-align:center;font-weight:bold;letter-spacing:1.65px;white-space:nowrap;font-family:'Liberation Sans', sans-serif;-webkit-text-stroke:0.15px #1c1c1c">BILLS</div>
<div class="a" style="left:238.60px;top:201.50px;width:130.10px;height:9.00px;background:#f6e7ee;"></div>
<div class="a" style="left:238.60px;top:201.50px;width:0.60px;height:223.56px;background:#e4e4e4;"></div>
<div class="a" style="left:368.10px;top:201.50px;width:0.60px;height:223.56px;background:#e4e4e4;"></div>
<div class="a" style="left:238.60px;top:210.20px;width:130.10px;height:0.60px;background:#f3f3f3;"></div>
<div class="a" style="left:238.60px;top:219.14px;width:130.10px;height:0.60px;background:#f3f3f3;"></div>
<div class="a" style="left:238.60px;top:228.08px;width:130.10px;height:0.60px;background:#f3f3f3;"></div>
<div class="a" style="left:238.60px;top:237.02px;width:130.10px;height:0.60px;background:#f3f3f3;"></div>
<div class="a" style="left:238.60px;top:245.96px;width:130.10px;height:0.60px;background:#f3f3f3;"></div>
<div class="a" style="left:238.60px;top:254.90px;width:130.10px;height:0.60px;background:#f3f3f3;"></div>
<div class="a" style="left:238.60px;top:263.84px;width:130.10px;height:0.60px;background:#f3f3f3;"></div>
<div class="a" style="left:238.60px;top:272.78px;width:130.10px;height:0.60px;background:#f3f3f3;"></div>
<div class="a" style="left:238.60px;top:281.72px;width:130.10px;height:0.60px;background:#f3f3f3;"></div>
<div class="a" style="left:238.60px;top:290.66px;width:130.10px;height:0.60px;background:#f3f3f3;"></div>
<div class="a" style="left:238.60px;top:299.60px;width:130.10px;height:0.60px;background:#f3f3f3;"></div>
<div class="a" style="left:238.60px;top:308.54px;width:130.10px;height:0.60px;background:#f3f3f3;"></div>
<div class="a" style="left:238.60px;top:317.48px;width:130.10px;height:0.60px;background:#f3f3f3;"></div>
<div class="a" style="left:238.60px;top:326.42px;width:130.10px;height:0.60px;background:#f3f3f3;"></div>
<div class="a" style="left:238.60px;top:335.36px;width:130.10px;height:0.60px;background:#f3f3f3;"></div>
<div class="a" style="left:238.60px;top:344.30px;width:130.10px;height:0.60px;background:#f3f3f3;"></div>
<div class="a" style="left:238.60px;top:353.24px;width:130.10px;height:0.60px;background:#f3f3f3;"></div>
<div class="a" style="left:238.60px;top:362.18px;width:130.10px;height:0.60px;background:#f3f3f3;"></div>
<div class="a" style="left:238.60px;top:371.12px;width:130.10px;height:0.60px;background:#f3f3f3;"></div>
<div class="a" style="left:238.60px;top:380.06px;width:130.10px;height:0.60px;background:#f3f3f3;"></div>
<div class="a" style="left:238.60px;top:389.00px;width:130.10px;height:0.60px;background:#f3f3f3;"></div>
<div class="a" style="left:238.60px;top:397.94px;width:130.10px;height:0.60px;background:#f3f3f3;"></div>
<div class="a" style="left:238.60px;top:406.88px;width:130.10px;height:0.60px;background:#f3f3f3;"></div>
<div class="a" style="left:238.60px;top:415.82px;width:130.10px;height:0.60px;background:#f3f3f3;"></div>
<div class="a" style="left:238.60px;top:424.76px;width:130.10px;height:0.60px;background:#f3f3f3;"></div>
<div class="a" style="left:284.20px;top:210.50px;width:0.60px;height:214.56px;background:#f3f3f3;"></div>
<div class="a" style="left:299.80px;top:210.50px;width:0.60px;height:214.56px;background:#f3f3f3;"></div>
<div class="a" style="left:333.80px;top:210.50px;width:0.60px;height:214.56px;background:#f3f3f3;"></div>
<div class="a" style="left:272.00px;top:204.92px;width:40.00px;height:3.96px;line-height:3.96px;font-size:3.3px;color:#1c1c1c;text-align:center;font-weight:bold;letter-spacing:1.25px;white-space:nowrap;font-family:'Liberation Sans', sans-serif;-webkit-text-stroke:0.1px #1c1c1c">DUE</div>
<div class="a" style="left:296.60px;top:204.92px;width:40.00px;height:3.96px;line-height:3.96px;font-size:3.3px;color:#1c1c1c;text-align:center;font-weight:bold;letter-spacing:1.25px;white-space:nowrap;font-family:'Liberation Sans', sans-serif;-webkit-text-stroke:0.1px #1c1c1c">BUDGET</div>
<div class="a" style="left:331.20px;top:204.92px;width:40.00px;height:3.96px;line-height:3.96px;font-size:3.3px;color:#1c1c1c;text-align:center;font-weight:bold;letter-spacing:1.25px;white-space:nowrap;font-family:'Liberation Sans', sans-serif;-webkit-text-stroke:0.1px #1c1c1c">ACTUAL</div>
<div class="a" style="left:241.0px;top:213.37px;width:4.1px;height:4.1px;border:0.5px solid #e8c6d4;background:#f5e3eb"></div>
<div class="a" style="left:245.50px;top:212.43px;width:40.00px;height:5.28px;line-height:5.28px;font-size:4.4px;color:#424242;text-align:center;font-weight:normal;letter-spacing:0.15px;white-space:nowrap;font-family:'Liberation Sans', sans-serif;-webkit-text-stroke:0.07px #424242">Netflix</div>
<div class="a" style="left:287.00px;top:212.43px;width:10.00px;height:5.28px;line-height:5.28px;font-size:4.4px;color:#424242;text-align:center;font-weight:normal;letter-spacing:0.15px;white-space:nowrap;font-family:'Liberation Sans', sans-serif;-webkit-text-stroke:0.07px #424242">1</div>
<div class="a" style="left:300.30px;top:212.43px;width:6.00px;height:5.28px;line-height:5.28px;font-size:4.4px;color:#424242;text-align:center;font-weight:normal;letter-spacing:0.15px;white-space:nowrap;font-family:'Liberation Sans', sans-serif;-webkit-text-stroke:0.07px #424242">$</div>
<div class="a" style="left:309.80px;top:212.43px;width:24.00px;height:5.28px;line-height:5.28px;font-size:4.4px;color:#424242;text-align:left;font-weight:normal;letter-spacing:0.15px;white-space:nowrap;font-family:'Liberation Sans', sans-serif;-webkit-text-stroke:0.07px #424242">10.00</div>
<div class="a" style="left:334.20px;top:212.43px;width:6.00px;height:5.28px;line-height:5.28px;font-size:4.4px;color:#424242;text-align:center;font-weight:normal;letter-spacing:0.15px;white-space:nowrap;font-family:'Liberation Sans', sans-serif;-webkit-text-stroke:0.07px #424242">$</div>
<div class="a" style="left:343.80px;top:212.43px;width:24.00px;height:5.28px;line-height:5.28px;font-size:4.4px;color:#424242;text-align:left;font-weight:normal;letter-spacing:0.15px;white-space:nowrap;font-family:'Liberation Sans', sans-serif;-webkit-text-stroke:0.07px #424242">11.00</div>
<div class="a" style="left:241.0px;top:222.31px;width:4.1px;height:4.1px;border:0.5px solid #e8c6d4;background:#f5e3eb"></div>
<div class="a" style="left:245.50px;top:221.37px;width:40.00px;height:5.28px;line-height:5.28px;font-size:4.4px;color:#424242;text-align:center;font-weight:normal;letter-spacing:0.15px;white-space:nowrap;font-family:'Liberation Sans', sans-serif;-webkit-text-stroke:0.07px #424242">Spotify</div>
<div class="a" style="left:287.00px;top:221.37px;width:10.00px;height:5.28px;line-height:5.28px;font-size:4.4px;color:#424242;text-align:center;font-weight:normal;letter-spacing:0.15px;white-space:nowrap;font-family:'Liberation Sans', sans-serif;-webkit-text-stroke:0.07px #424242">2</div>
<div class="a" style="left:300.30px;top:221.37px;width:6.00px;height:5.28px;line-height:5.28px;font-size:4.4px;color:#424242;text-align:center;font-weight:normal;letter-spacing:0.15px;white-space:nowrap;font-family:'Liberation Sans', sans-serif;-webkit-text-stroke:0.07px #424242">$</div>
<div class="a" style="left:309.80px;top:221.37px;width:24.00px;height:5.28px;line-height:5.28px;font-size:4.4px;color:#424242;text-align:left;font-weight:normal;letter-spacing:0.15px;white-space:nowrap;font-family:'Liberation Sans', sans-serif;-webkit-text-stroke:0.07px #424242">10.00</div>
<div class="a" style="left:334.20px;top:221.37px;width:6.00px;height:5.28px;line-height:5.28px;font-size:4.4px;color:#424242;text-align:center;font-weight:normal;letter-spacing:0.15px;white-space:nowrap;font-family:'Liberation Sans', sans-serif;-webkit-text-stroke:0.07px #424242">$</div>
<div class="a" style="left:343.80px;top:221.37px;width:24.00px;height:5.28px;line-height:5.28px;font-size:4.4px;color:#424242;text-align:left;font-weight:normal;letter-spacing:0.15px;white-space:nowrap;font-family:'Liberation Sans', sans-serif;-webkit-text-stroke:0.07px #424242">10.00</div>
<div class="a" style="left:241.0px;top:231.25px;width:4.1px;height:4.1px;border:0.5px solid #e8c6d4;background:#f5e3eb"></div>
<div class="a" style="left:245.50px;top:230.31px;width:40.00px;height:5.28px;line-height:5.28px;font-size:4.4px;color:#424242;text-align:center;font-weight:normal;letter-spacing:0.15px;white-space:nowrap;font-family:'Liberation Sans', sans-serif;-webkit-text-stroke:0.07px #424242">Rent</div>
<div class="a" style="left:287.00px;top:230.31px;width:10.00px;height:5.28px;line-height:5.28px;font-size:4.4px;color:#424242;text-align:center;font-weight:normal;letter-spacing:0.15px;white-space:nowrap;font-family:'Liberation Sans', sans-serif;-webkit-text-stroke:0.07px #424242">3</div>
<div class="a" style="left:300.30px;top:230.31px;width:6.00px;height:5.28px;line-height:5.28px;font-size:4.4px;color:#424242;text-align:center;font-weight:normal;letter-spacing:0.15px;white-space:nowrap;font-family:'Liberation Sans', sans-serif;-webkit-text-stroke:0.07px #424242">$</div>
<div class="a" style="left:309.80px;top:230.31px;width:24.00px;height:5.28px;line-height:5.28px;font-size:4.4px;color:#424242;text-align:left;font-weight:normal;letter-spacing:0.15px;white-space:nowrap;font-family:'Liberation Sans', sans-serif;-webkit-text-stroke:0.07px #424242">750.00</div>
<div class="a" style="left:334.20px;top:230.31px;width:6.00px;height:5.28px;line-height:5.28px;font-size:4.4px;color:#424242;text-align:center;font-weight:normal;letter-spacing:0.15px;white-space:nowrap;font-family:'Liberation Sans', sans-serif;-webkit-text-stroke:0.07px #424242">$</div>
<div class="a" style="left:343.80px;top:230.31px;width:24.00px;height:5.28px;line-height:5.28px;font-size:4.4px;color:#424242;text-align:left;font-weight:normal;letter-spacing:0.15px;white-space:nowrap;font-family:'Liberation Sans', sans-serif;-webkit-text-stroke:0.07px #424242">750.00</div>
<div class="a" style="left:241.0px;top:240.19px;width:4.1px;height:4.1px;border:0.5px solid #e8c6d4;background:#f5e3eb"></div>
<div class="a" style="left:245.50px;top:239.25px;width:40.00px;height:5.28px;line-height:5.28px;font-size:4.4px;color:#424242;text-align:center;font-weight:normal;letter-spacing:0.15px;white-space:nowrap;font-family:'Liberation Sans', sans-serif;-webkit-text-stroke:0.07px #424242">Car</div>
<div class="a" style="left:287.00px;top:239.25px;width:10.00px;height:5.28px;line-height:5.28px;font-size:4.4px;color:#424242;text-align:center;font-weight:normal;letter-spacing:0.15px;white-space:nowrap;font-family:'Liberation Sans', sans-serif;-webkit-text-stroke:0.07px #424242">5</div>
<div class="a" style="left:300.30px;top:239.25px;width:6.00px;height:5.28px;line-height:5.28px;font-size:4.4px;color:#424242;text-align:center;font-weight:normal;letter-spacing:0.15px;white-space:nowrap;font-family:'Liberation Sans', sans-serif;-webkit-text-stroke:0.07px #424242">$</div>
<div class="a" style="left:309.80px;top:239.25px;width:24.00px;height:5.28px;line-height:5.28px;font-size:4.4px;color:#424242;text-align:left;font-weight:normal;letter-spacing:0.15px;white-space:nowrap;font-family:'Liberation Sans', sans-serif;-webkit-text-stroke:0.07px #424242">100.00</div>
<div class="a" style="left:334.20px;top:239.25px;width:6.00px;height:5.28px;line-height:5.28px;font-size:4.4px;color:#424242;text-align:center;font-weight:normal;letter-spacing:0.15px;white-space:nowrap;font-family:'Liberation Sans', sans-serif;-webkit-text-stroke:0.07px #424242">$</div>
<div class="a" style="left:343.80px;top:239.25px;width:24.00px;height:5.28px;line-height:5.28px;font-size:4.4px;color:#424242;text-align:left;font-weight:normal;letter-spacing:0.15px;white-space:nowrap;font-family:'Liberation Sans', sans-serif;-webkit-text-stroke:0.07px #424242">75.00</div>
<div class="a" style="left:241.0px;top:249.13px;width:4.1px;height:4.1px;border:0.5px solid #dedede;background:#fff"></div>
<div class="a" style="left:245.50px;top:248.19px;width:40.00px;height:5.28px;line-height:5.28px;font-size:4.4px;color:#424242;text-align:center;font-weight:normal;letter-spacing:0.15px;white-space:nowrap;font-family:'Liberation Sans', sans-serif;-webkit-text-stroke:0.07px #424242">Electricity</div>
<div class="a" style="left:287.00px;top:248.19px;width:10.00px;height:5.28px;line-height:5.28px;font-size:4.4px;color:#424242;text-align:center;font-weight:normal;letter-spacing:0.15px;white-space:nowrap;font-family:'Liberation Sans', sans-serif;-webkit-text-stroke:0.07px #424242">7</div>
<div class="a" style="left:300.30px;top:248.19px;width:6.00px;height:5.28px;line-height:5.28px;font-size:4.4px;color:#424242;text-align:center;font-weight:normal;letter-spacing:0.15px;white-space:nowrap;font-family:'Liberation Sans', sans-serif;-webkit-text-stroke:0.07px #424242">$</div>
<div class="a" style="left:309.80px;top:248.19px;width:24.00px;height:5.28px;line-height:5.28px;font-size:4.4px;color:#424242;text-align:left;font-weight:normal;letter-spacing:0.15px;white-space:nowrap;font-family:'Liberation Sans', sans-serif;-webkit-text-stroke:0.07px #424242">50.00</div>
<div class="a" style="left:334.20px;top:248.19px;width:6.00px;height:5.28px;line-height:5.28px;font-size:4.4px;color:#424242;text-align:center;font-weight:normal;letter-spacing:0.15px;white-space:nowrap;font-family:'Liberation Sans', sans-serif;-webkit-text-stroke:0.07px #424242">$</div>
<div class="a" style="left:343.80px;top:248.19px;width:24.00px;height:5.28px;line-height:5.28px;font-size:4.4px;color:#424242;text-align:left;font-weight:normal;letter-spacing:0.15px;white-space:nowrap;font-family:'Liberation Sans', sans-serif;-webkit-text-stroke:0.07px #424242"></div>
<div class="a" style="left:241.0px;top:258.07px;width:4.1px;height:4.1px;border:0.5px solid #dedede;background:#fff"></div>
<div class="a" style="left:245.50px;top:257.13px;width:40.00px;height:5.28px;line-height:5.28px;font-size:4.4px;color:#424242;text-align:center;font-weight:normal;letter-spacing:0.15px;white-space:nowrap;font-family:'Liberation Sans', sans-serif;-webkit-text-stroke:0.07px #424242">Internet</div>
<div class="a" style="left:287.00px;top:257.13px;width:10.00px;height:5.28px;line-height:5.28px;font-size:4.4px;color:#424242;text-align:center;font-weight:normal;letter-spacing:0.15px;white-space:nowrap;font-family:'Liberation Sans', sans-serif;-webkit-text-stroke:0.07px #424242">9</div>
<div class="a" style="left:300.30px;top:257.13px;width:6.00px;height:5.28px;line-height:5.28px;font-size:4.4px;color:#424242;text-align:center;font-weight:normal;letter-spacing:0.15px;white-space:nowrap;font-family:'Liberation Sans', sans-serif;-webkit-text-stroke:0.07px #424242">$</div>
<div class="a" style="left:309.80px;top:257.13px;width:24.00px;height:5.28px;line-height:5.28px;font-size:4.4px;color:#424242;text-align:left;font-weight:normal;letter-spacing:0.15px;white-space:nowrap;font-family:'Liberation Sans', sans-serif;-webkit-text-stroke:0.07px #424242">50.00</div>
<div class="a" style="left:334.20px;top:257.13px;width:6.00px;height:5.28px;line-height:5.28px;font-size:4.4px;color:#424242;text-align:center;font-weight:normal;letter-spacing:0.15px;white-space:nowrap;font-family:'Liberation Sans', sans-serif;-webkit-text-stroke:0.07px #424242">$</div>
<div class="a" style="left:343.80px;top:257.13px;width:24.00px;height:5.28px;line-height:5.28px;font-size:4.4px;color:#424242;text-align:left;font-weight:normal;letter-spacing:0.15px;white-space:nowrap;font-family:'Liberation Sans', sans-serif;-webkit-text-stroke:0.07px #424242"></div>
<div class="a" style="left:241.0px;top:267.01px;width:4.1px;height:4.1px;border:0.5px solid #dedede;background:#fff"></div>
<div class="a" style="left:245.50px;top:266.07px;width:40.00px;height:5.28px;line-height:5.28px;font-size:4.4px;color:#424242;text-align:center;font-weight:normal;letter-spacing:0.15px;white-space:nowrap;font-family:'Liberation Sans', sans-serif;-webkit-text-stroke:0.07px #424242">iPhone</div>
<div class="a" style="left:287.00px;top:266.07px;width:10.00px;height:5.28px;line-height:5.28px;font-size:4.4px;color:#424242;text-align:center;font-weight:normal;letter-spacing:0.15px;white-space:nowrap;font-family:'Liberation Sans', sans-serif;-webkit-text-stroke:0.07px #424242">10</div>
<div class="a" style="left:300.30px;top:266.07px;width:6.00px;height:5.28px;line-height:5.28px;font-size:4.4px;color:#424242;text-align:center;font-weight:normal;letter-spacing:0.15px;white-space:nowrap;font-family:'Liberation Sans', sans-serif;-webkit-text-stroke:0.07px #424242">$</div>
<div class="a" style="left:309.80px;top:266.07px;width:24.00px;height:5.28px;line-height:5.28px;font-size:4.4px;color:#424242;text-align:left;font-weight:normal;letter-spacing:0.15px;white-space:nowrap;font-family:'Liberation Sans', sans-serif;-webkit-text-stroke:0.07px #424242">50.00</div>
<div class="a" style="left:334.20px;top:266.07px;width:6.00px;height:5.28px;line-height:5.28px;font-size:4.4px;color:#424242;text-align:center;font-weight:normal;letter-spacing:0.15px;white-space:nowrap;font-family:'Liberation Sans', sans-serif;-webkit-text-stroke:0.07px #424242">$</div>
<div class="a" style="left:343.80px;top:266.07px;width:24.00px;height:5.28px;line-height:5.28px;font-size:4.4px;color:#424242;text-align:left;font-weight:normal;letter-spacing:0.15px;white-space:nowrap;font-family:'Liberation Sans', sans-serif;-webkit-text-stroke:0.07px #424242"></div>
<div class="a" style="left:241.0px;top:275.95px;width:4.1px;height:4.1px;border:0.5px solid #dedede;background:#fff"></div>
<div class="a" style="left:245.50px;top:275.01px;width:40.00px;height:5.28px;line-height:5.28px;font-size:4.4px;color:#424242;text-align:center;font-weight:normal;letter-spacing:0.15px;white-space:nowrap;font-family:'Liberation Sans', sans-serif;-webkit-text-stroke:0.07px #424242">Gym</div>
<div class="a" style="left:287.00px;top:275.01px;width:10.00px;height:5.28px;line-height:5.28px;font-size:4.4px;color:#424242;text-align:center;font-weight:normal;letter-spacing:0.15px;white-space:nowrap;font-family:'Liberation Sans', sans-serif;-webkit-text-stroke:0.07px #424242">10</div>
<div class="a" style="left:300.30px;top:275.01px;width:6.00px;height:5.28px;line-height:5.28px;font-size:4.4px;color:#424242;text-align:center;font-weight:normal;letter-spacing:0.15px;white-space:nowrap;font-family:'Liberation Sans', sans-serif;-webkit-text-stroke:0.07px #424242">$</div>
<div class="a" style="left:309.80px;top:275.01px;width:24.00px;height:5.28px;line-height:5.28px;font-size:4.4px;color:#424242;text-align:left;font-weight:normal;letter-spacing:0.15px;white-space:nowrap;font-family:'Liberation Sans', sans-serif;-webkit-text-stroke:0.07px #424242">55.00</div>
<div class="a" style="left:334.20px;top:275.01px;width:6.00px;height:5.28px;line-height:5.28px;font-size:4.4px;color:#424242;text-align:center;font-weight:normal;letter-spacing:0.15px;white-space:nowrap;font-family:'Liberation Sans', sans-serif;-webkit-text-stroke:0.07px #424242">$</div>
<div class="a" style="left:343.80px;top:275.01px;width:24.00px;height:5.28px;line-height:5.28px;font-size:4.4px;color:#424242;text-align:left;font-weight:normal;letter-spacing:0.15px;white-space:nowrap;font-family:'Liberation Sans', sans-serif;-webkit-text-stroke:0.07px #424242"></div>
<div class="a" style="left:241.0px;top:284.89px;width:4.1px;height:4.1px;border:0.5px solid #dedede;background:#fff"></div>
<div class="a" style="left:245.50px;top:283.95px;width:40.00px;height:5.28px;line-height:5.28px;font-size:4.4px;color:#424242;text-align:center;font-weight:normal;letter-spacing:0.15px;white-space:nowrap;font-family:'Liberation Sans', sans-serif;-webkit-text-stroke:0.07px #424242">Amazon Prime</div>
<div class="a" style="left:287.00px;top:283.95px;width:10.00px;height:5.28px;line-height:5.28px;font-size:4.4px;color:#424242;text-align:center;font-weight:normal;letter-spacing:0.15px;white-space:nowrap;font-family:'Liberation Sans', sans-serif;-webkit-text-stroke:0.07px #424242">11</div>
<div class="a" style="left:300.30px;top:283.95px;width:6.00px;height:5.28px;line-height:5.28px;font-size:4.4px;color:#424242;text-align:center;font-weight:normal;letter-spacing:0.15px;white-space:nowrap;font-family:'Liberation Sans', sans-serif;-webkit-text-stroke:0.07px #424242">$</div>
<div class="a" style="left:309.80px;top:283.95px;width:24.00px;height:5.28px;line-height:5.28px;font-size:4.4px;color:#424242;text-align:left;font-weight:normal;letter-spacing:0.15px;white-space:nowrap;font-family:'Liberation Sans', sans-serif;-webkit-text-stroke:0.07px #424242">7.00</div>
<div class="a" style="left:334.20px;top:283.95px;width:6.00px;height:5.28px;line-height:5.28px;font-size:4.4px;color:#424242;text-align:center;font-weight:normal;letter-spacing:0.15px;white-space:nowrap;font-family:'Liberation Sans', sans-serif;-webkit-text-stroke:0.07px #424242">$</div>
<div class="a" style="left:343.80px;top:283.95px;width:24.00px;height:5.28px;line-height:5.28px;font-size:4.4px;color:#424242;text-align:left;font-weight:normal;letter-spacing:0.15px;white-space:nowrap;font-family:'Liberation Sans', sans-serif;-webkit-text-stroke:0.07px #424242"></div>
<div class="a" style="left:241.0px;top:293.83px;width:4.1px;height:4.1px;border:0.5px solid #dedede;background:#fff"></div>
<div class="a" style="left:245.50px;top:292.89px;width:40.00px;height:5.28px;line-height:5.28px;font-size:4.4px;color:#424242;text-align:center;font-weight:normal;letter-spacing:0.15px;white-space:nowrap;font-family:'Liberation Sans', sans-serif;-webkit-text-stroke:0.07px #424242">Car</div>
<div class="a" style="left:287.00px;top:292.89px;width:10.00px;height:5.28px;line-height:5.28px;font-size:4.4px;color:#424242;text-align:center;font-weight:normal;letter-spacing:0.15px;white-space:nowrap;font-family:'Liberation Sans', sans-serif;-webkit-text-stroke:0.07px #424242">15</div>
<div class="a" style="left:300.30px;top:292.89px;width:6.00px;height:5.28px;line-height:5.28px;font-size:4.4px;color:#424242;text-align:center;font-weight:normal;letter-spacing:0.15px;white-space:nowrap;font-family:'Liberation Sans', sans-serif;-webkit-text-stroke:0.07px #424242">$</div>
<div class="a" style="left:309.80px;top:292.89px;width:24.00px;height:5.28px;line-height:5.28px;font-size:4.4px;color:#424242;text-align:left;font-weight:normal;letter-spacing:0.15px;white-space:nowrap;font-family:'Liberation Sans', sans-serif;-webkit-text-stroke:0.07px #424242">150.00</div>
<div class="a" style="left:334.20px;top:292.89px;width:6.00px;height:5.28px;line-height:5.28px;font-size:4.4px;color:#424242;text-align:center;font-weight:normal;letter-spacing:0.15px;white-space:nowrap;font-family:'Liberation Sans', sans-serif;-webkit-text-stroke:0.07px #424242">$</div>
<div class="a" style="left:343.80px;top:292.89px;width:24.00px;height:5.28px;line-height:5.28px;font-size:4.4px;color:#424242;text-align:left;font-weight:normal;letter-spacing:0.15px;white-space:nowrap;font-family:'Liberation Sans', sans-serif;-webkit-text-stroke:0.07px #424242"></div>
<div class="a" style="left:241.0px;top:302.77px;width:4.1px;height:4.1px;border:0.5px solid #dedede;background:#fff"></div>
<div class="a" style="left:245.50px;top:301.83px;width:40.00px;height:5.28px;line-height:5.28px;font-size:4.4px;color:#424242;text-align:center;font-weight:normal;letter-spacing:0.15px;white-space:nowrap;font-family:'Liberation Sans', sans-serif;-webkit-text-stroke:0.07px #424242">Bank</div>
<div class="a" style="left:287.00px;top:301.83px;width:10.00px;height:5.28px;line-height:5.28px;font-size:4.4px;color:#424242;text-align:center;font-weight:normal;letter-spacing:0.15px;white-space:nowrap;font-family:'Liberation Sans', sans-serif;-webkit-text-stroke:0.07px #424242">17</div>
<div class="a" style="left:300.30px;top:301.83px;width:6.00px;height:5.28px;line-height:5.28px;font-size:4.4px;color:#424242;text-align:center;font-weight:normal;letter-spacing:0.15px;white-space:nowrap;font-family:'Liberation Sans', sans-serif;-webkit-text-stroke:0.07px #424242">$</div>
<div class="a" style="left:309.80px;top:301.83px;width:24.00px;height:5.28px;line-height:5.28px;font-size:4.4px;color:#424242;text-align:left;font-weight:normal;letter-spacing:0.15px;white-space:nowrap;font-family:'Liberation Sans', sans-serif;-webkit-text-stroke:0.07px #424242">5.00</div>
<div class="a" style="left:334.20px;top:301.83px;width:6.00px;height:5.28px;line-height:5.28px;font-size:4.4px;color:#424242;text-align:center;font-weight:normal;letter-spacing:0.15px;white-space:nowrap;font-family:'Liberation Sans', sans-serif;-webkit-text-stroke:0.07px #424242">$</div>
<div class="a" style="left:343.80px;top:301.83px;width:24.00px;height:5.28px;line-height:5.28px;font-size:4.4px;color:#424242;text-align:left;font-weight:normal;letter-spacing:0.15px;white-space:nowrap;font-family:'Liberation Sans', sans-serif;-webkit-text-stroke:0.07px #424242"></div>
<div class="a" style="left:241.0px;top:311.71px;width:4.1px;height:4.1px;border:0.5px solid #dedede;background:#fff"></div>
<div class="a" style="left:245.50px;top:310.77px;width:40.00px;height:5.28px;line-height:5.28px;font-size:4.4px;color:#424242;text-align:center;font-weight:normal;letter-spacing:0.15px;white-space:nowrap;font-family:'Liberation Sans', sans-serif;-webkit-text-stroke:0.07px #424242">Maintenance</div>
<div class="a" style="left:287.00px;top:310.77px;width:10.00px;height:5.28px;line-height:5.28px;font-size:4.4px;color:#424242;text-align:center;font-weight:normal;letter-spacing:0.15px;white-space:nowrap;font-family:'Liberation Sans', sans-serif;-webkit-text-stroke:0.07px #424242">17</div>
<div class="a" style="left:300.30px;top:310.77px;width:6.00px;height:5.28px;line-height:5.28px;font-size:4.4px;color:#424242;text-align:center;font-weight:normal;letter-spacing:0.15px;white-space:nowrap;font-family:'Liberation Sans', sans-serif;-webkit-text-stroke:0.07px #424242">$</div>
<div class="a" style="left:309.80px;top:310.77px;width:24.00px;height:5.28px;line-height:5.28px;font-size:4.4px;color:#424242;text-align:left;font-weight:normal;letter-spacing:0.15px;white-space:nowrap;font-family:'Liberation Sans', sans-serif;-webkit-text-stroke:0.07px #424242">85.00</div>
<div class="a" style="left:334.20px;top:310.77px;width:6.00px;height:5.28px;line-height:5.28px;font-size:4.4px;color:#424242;text-align:center;font-weight:normal;letter-spacing:0.15px;white-space:nowrap;font-family:'Liberation Sans', sans-serif;-webkit-text-stroke:0.07px #424242">$</div>
<div class="a" style="left:343.80px;top:310.77px;width:24.00px;height:5.28px;line-height:5.28px;font-size:4.4px;color:#424242;text-align:left;font-weight:normal;letter-spacing:0.15px;white-space:nowrap;font-family:'Liberation Sans', sans-serif;-webkit-text-stroke:0.07px #424242"></div>
<div class="a" style="left:241.0px;top:320.65px;width:4.1px;height:4.1px;border:0.5px solid #dedede;background:#fff"></div>
<div class="a" style="left:245.50px;top:319.71px;width:40.00px;height:5.28px;line-height:5.28px;font-size:4.4px;color:#424242;text-align:center;font-weight:normal;letter-spacing:0.15px;white-space:nowrap;font-family:'Liberation Sans', sans-serif;-webkit-text-stroke:0.07px #424242">Disney Plus</div>
<div class="a" style="left:287.00px;top:319.71px;width:10.00px;height:5.28px;line-height:5.28px;font-size:4.4px;color:#424242;text-align:center;font-weight:normal;letter-spacing:0.15px;white-space:nowrap;font-family:'Liberation Sans', sans-serif;-webkit-text-stroke:0.07px #424242">19</div>
<div class="a" style="left:300.30px;top:319.71px;width:6.00px;height:5.28px;line-height:5.28px;font-size:4.4px;color:#424242;text-align:center;font-weight:normal;letter-spacing:0.15px;white-space:nowrap;font-family:'Liberation Sans', sans-serif;-webkit-text-stroke:0.07px #424242">$</div>
<div class="a" style="left:309.80px;top:319.71px;width:24.00px;height:5.28px;line-height:5.28px;font-size:4.4px;color:#424242;text-align:left;font-weight:normal;letter-spacing:0.15px;white-space:nowrap;font-family:'Liberation Sans', sans-serif;-webkit-text-stroke:0.07px #424242">10.00</div>
<div class="a" style="left:334.20px;top:319.71px;width:6.00px;height:5.28px;line-height:5.28px;font-size:4.4px;color:#424242;text-align:center;font-weight:normal;letter-spacing:0.15px;white-space:nowrap;font-family:'Liberation Sans', sans-serif;-webkit-text-stroke:0.07px #424242">$</div>
<div class="a" style="left:343.80px;top:319.71px;width:24.00px;height:5.28px;line-height:5.28px;font-size:4.4px;color:#424242;text-align:left;font-weight:normal;letter-spacing:0.15px;white-space:nowrap;font-family:'Liberation Sans', sans-serif;-webkit-text-stroke:0.07px #424242"></div>
<div class="a" style="left:241.0px;top:329.59px;width:4.1px;height:4.1px;border:0.5px solid #dedede;background:#fff"></div>
<div class="a" style="left:300.30px;top:328.65px;width:6.00px;height:5.28px;line-height:5.28px;font-size:4.4px;color:#424242;text-align:center;font-weight:normal;letter-spacing:0.15px;white-space:nowrap;font-family:'Liberation Sans', sans-serif;-webkit-text-stroke:0.07px #424242">$</div>
<div class="a" style="left:334.20px;top:328.65px;width:6.00px;height:5.28px;line-height:5.28px;font-size:4.4px;color:#424242;text-align:center;font-weight:normal;letter-spacing:0.15px;white-space:nowrap;font-family:'Liberation Sans', sans-serif;-webkit-text-stroke:0.07px #424242">$</div>
<div class="a" style="left:241.0px;top:338.53px;width:4.1px;height:4.1px;border:0.5px solid #dedede;background:#fff"></div>
<div class="a" style="left:300.30px;top:337.59px;width:6.00px;height:5.28px;line-height:5.28px;font-size:4.4px;color:#424242;text-align:center;font-weight:normal;letter-spacing:0.15px;white-space:nowrap;font-family:'Liberation Sans', sans-serif;-webkit-text-stroke:0.07px #424242">$</div>
<div class="a" style="left:334.20px;top:337.59px;width:6.00px;height:5.28px;line-height:5.28px;font-size:4.4px;color:#424242;text-align:center;font-weight:normal;letter-spacing:0.15px;white-space:nowrap;font-family:'Liberation Sans', sans-serif;-webkit-text-stroke:0.07px #424242">$</div>
<div class="a" style="left:241.0px;top:347.47px;width:4.1px;height:4.1px;border:0.5px solid #dedede;background:#fff"></div>
<div class="a" style="left:300.30px;top:346.53px;width:6.00px;height:5.28px;line-height:5.28px;font-size:4.4px;color:#424242;text-align:center;font-weight:normal;letter-spacing:0.15px;white-space:nowrap;font-family:'Liberation Sans', sans-serif;-webkit-text-stroke:0.07px #424242">$</div>
<div class="a" style="left:334.20px;top:346.53px;width:6.00px;height:5.28px;line-height:5.28px;font-size:4.4px;color:#424242;text-align:center;font-weight:normal;letter-spacing:0.15px;white-space:nowrap;font-family:'Liberation Sans', sans-serif;-webkit-text-stroke:0.07px #424242">$</div>
<div class="a" style="left:241.0px;top:356.41px;width:4.1px;height:4.1px;border:0.5px solid #dedede;background:#fff"></div>
<div class="a" style="left:300.30px;top:355.47px;width:6.00px;height:5.28px;line-height:5.28px;font-size:4.4px;color:#424242;text-align:center;font-weight:normal;letter-spacing:0.15px;white-space:nowrap;font-family:'Liberation Sans', sans-serif;-webkit-text-stroke:0.07px #424242">$</div>
<div class="a" style="left:334.20px;top:355.47px;width:6.00px;height:5.28px;line-height:5.28px;font-size:4.4px;color:#424242;text-align:center;font-weight:normal;letter-spacing:0.15px;white-space:nowrap;font-family:'Liberation Sans', sans-serif;-webkit-text-stroke:0.07px #424242">$</div>
<div class="a" style="left:241.0px;top:365.35px;width:4.1px;height:4.1px;border:0.5px solid #dedede;background:#fff"></div>
<div class="a" style="left:300.30px;top:364.41px;width:6.00px;height:5.28px;line-height:5.28px;font-size:4.4px;color:#424242;text-align:center;font-weight:normal;letter-spacing:0.15px;white-space:nowrap;font-family:'Liberation Sans', sans-serif;-webkit-text-stroke:0.07px #424242">$</div>
<div class="a" style="left:334.20px;top:364.41px;width:6.00px;height:5.28px;line-height:5.28px;font-size:4.4px;color:#424242;text-align:center;font-weight:normal;letter-spacing:0.15px;white-space:nowrap;font-family:'Liberation Sans', sans-serif;-webkit-text-stroke:0.07px #424242">$</div>
<div class="a" style="left:241.0px;top:374.29px;width:4.1px;height:4.1px;border:0.5px solid #dedede;background:#fff"></div>
<div class="a" style="left:300.30px;top:373.35px;width:6.00px;height:5.28px;line-height:5.28px;font-size:4.4px;color:#424242;text-align:center;font-weight:normal;letter-spacing:0.15px;white-space:nowrap;font-family:'Liberation Sans', sans-serif;-webkit-text-stroke:0.07px #424242">$</div>
<div class="a" style="left:334.20px;top:373.35px;width:6.00px;height:5.28px;line-height:5.28px;font-size:4.4px;color:#424242;text-align:center;font-weight:normal;letter-spacing:0.15px;white-space:nowrap;font-family:'Liberation Sans', sans-serif;-webkit-text-stroke:0.07px #424242">$</div>
<div class="a" style="left:241.0px;top:383.23px;width:4.1px;height:4.1px;border:0.5px solid #dedede;background:#fff"></div>
<div class="a" style="left:300.30px;top:382.29px;width:6.00px;height:5.28px;line-height:5.28px;font-size:4.4px;color:#424242;text-align:center;font-weight:normal;letter-spacing:0.15px;white-space:nowrap;font-family:'Liberation Sans', sans-serif;-webkit-text-stroke:0.07px #424242">$</div>
<div class="a" style="left:334.20px;top:382.29px;width:6.00px;height:5.28px;line-height:5.28px;font-size:4.4px;color:#424242;text-align:center;font-weight:normal;letter-spacing:0.15px;white-space:nowrap;font-family:'Liberation Sans', sans-serif;-webkit-text-stroke:0.07px #424242">$</div>
<div class="a" style="left:241.0px;top:392.17px;width:4.1px;height:4.1px;border:0.5px solid #dedede;background:#fff"></div>
<div class="a" style="left:300.30px;top:391.23px;width:6.00px;height:5.28px;line-height:5.28px;font-size:4.4px;color:#424242;text-align:center;font-weight:normal;letter-spacing:0.15px;white-space:nowrap;font-family:'Liberation Sans', sans-serif;-webkit-text-stroke:0.07px #424242">$</div>
<div class="a" style="left:334.20px;top:391.23px;width:6.00px;height:5.28px;line-height:5.28px;font-size:4.4px;color:#424242;text-align:center;font-weight:normal;letter-spacing:0.15px;white-space:nowrap;font-family:'Liberation Sans', sans-serif;-webkit-text-stroke:0.07px #424242">$</div>
<div class="a" style="left:241.0px;top:401.11px;width:4.1px;height:4.1px;border:0.5px solid #dedede;background:#fff"></div>
<div class="a" style="left:300.30px;top:400.17px;width:6.00px;height:5.28px;line-height:5.28px;font-size:4.4px;color:#424242;text-align:center;font-weight:normal;letter-spacing:0.15px;white-space:nowrap;font-family:'Liberation Sans', sans-serif;-webkit-text-stroke:0.07px #424242">$</div>
<div class="a" style="left:334.20px;top:400.17px;width:6.00px;height:5.28px;line-height:5.28px;font-size:4.4px;color:#424242;text-align:center;font-weight:normal;letter-spacing:0.15px;white-space:nowrap;font-family:'Liberation Sans', sans-serif;-webkit-text-stroke:0.07px #424242">$</div>
<div class="a" style="left:241.0px;top:410.05px;width:4.1px;height:4.1px;border:0.5px solid #dedede;background:#fff"></div>
<div class="a" style="left:300.30px;top:409.11px;width:6.00px;height:5.28px;line-height:5.28px;font-size:4.4px;color:#424242;text-align:center;font-weight:normal;letter-spacing:0.15px;white-space:nowrap;font-family:'Liberation Sans', sans-serif;-webkit-text-stroke:0.07px #424242">$</div>
<div class="a" style="left:334.20px;top:409.11px;width:6.00px;height:5.28px;line-height:5.28px;font-size:4.4px;color:#424242;text-align:center;font-weight:normal;letter-spacing:0.15px;white-space:nowrap;font-family:'Liberation Sans', sans-serif;-webkit-text-stroke:0.07px #424242">$</div>
<div class="a" style="left:241.0px;top:418.99px;width:4.1px;height:4.1px;border:0.5px solid #dedede;background:#fff"></div>
<div class="a" style="left:300.30px;top:418.05px;width:6.00px;height:5.28px;line-height:5.28px;font-size:4.4px;color:#424242;text-align:center;font-weight:normal;letter-spacing:0.15px;white-space:nowrap;font-family:'Liberation Sans', sans-serif;-webkit-text-stroke:0.07px #424242">$</div>
<div class="a" style="left:334.20px;top:418.05px;width:6.00px;height:5.28px;line-height:5.28px;font-size:4.4px;color:#424242;text-align:center;font-weight:normal;letter-spacing:0.15px;white-space:nowrap;font-family:'Liberation Sans', sans-serif;-webkit-text-stroke:0.07px #424242">$</div>
<div class="a" style="left:456.40px;top:210.50px;width:34.90px;height:214.56px;background:#fdf3ec;"></div>
<div class="a" style="left:377.60px;top:183.80px;width:145.60px;height:17.70px;background:#f7d5bf;"></div>
<div class="a" style="left:390.90px;top:190.49px;width:120.00px;height:5.52px;line-height:5.52px;font-size:4.6px;color:#1c1c1c;text-align:center;font-weight:bold;letter-spacing:1.65px;white-space:nowrap;font-family:'Liberation Sans', sans-serif;-webkit-text-stroke:0.15px #1c1c1c">EXPENSES</div>
<div class="a" style="left:377.60px;top:201.50px;width:145.60px;height:9.00px;background:#fbe9de;"></div>
<div class="a" style="left:377.60px;top:201.50px;width:0.60px;height:223.56px;background:#e4e4e4;"></div>
<div class="a" style="left:522.60px;top:201.50px;width:0.60px;height:223.56px;background:#e4e4e4;"></div>
<div class="a" style="left:377.60px;top:210.20px;width:145.60px;height:0.60px;background:#f3f3f3;"></div>
<div class="a" style="left:377.60px;top:219.14px;width:145.60px;height:0.60px;background:#f3f3f3;"></div>
<div class="a" style="left:377.60px;top:228.08px;width:145.60px;height:0.60px;background:#f3f3f3;"></div>
<div class="a" style="left:377.60px;top:237.02px;width:145.60px;height:0.60px;background:#f3f3f3;"></div>
<div class="a" style="left:377.60px;top:245.96px;width:145.60px;height:0.60px;background:#f3f3f3;"></div>
<div class="a" style="left:377.60px;top:254.90px;width:145.60px;height:0.60px;background:#f3f3f3;"></div>
<div class="a" style="left:377.60px;top:263.84px;width:145.60px;height:0.60px;background:#f3f3f3;"></div>
<div class="a" style="left:377.60px;top:272.78px;width:145.60px;height:0.60px;background:#f3f3f3;"></div>
<div class="a" style="left:377.60px;top:281.72px;width:145.60px;height:0.60px;background:#f3f3f3;"></div>
<div class="a" style="left:377.60px;top:290.66px;width:145.60px;height:0.60px;background:#f3f3f3;"></div>
<div class="a" style="left:377.60px;top:299.60px;width:145.60px;height:0.60px;background:#f3f3f3;"></div>
<div class="a" style="left:377.60px;top:308.54px;width:145.60px;height:0.60px;background:#f3f3f3;"></div>
<div class="a" style="left:377.60px;top:317.48px;width:145.60px;height:0.60px;background:#f3f3f3;"></div>
<div class="a" style="left:377.60px;top:326.42px;width:145.60px;height:0.60px;background:#f3f3f3;"></div>
<div class="a" style="left:377.60px;top:335.36px;width:145.60px;height:0.60px;background:#f3f3f3;"></div>
<div class="a" style="left:377.60px;top:344.30px;width:145.60px;height:0.60px;background:#f3f3f3;"></div>
<div class="a" style="left:377.60px;top:353.24px;width:145.60px;height:0.60px;background:#f3f3f3;"></div>
<div class="a" style="left:377.60px;top:362.18px;width:145.60px;height:0.60px;background:#f3f3f3;"></div>
<div class="a" style="left:377.60px;top:371.12px;width:145.60px;height:0.60px;background:#f3f3f3;"></div>
<div class="a" style="left:377.60px;top:380.06px;width:145.60px;height:0.60px;background:#f3f3f3;"></div>
<div class="a" style="left:377.60px;top:389.00px;width:145.60px;height:0.60px;background:#f3f3f3;"></div>
<div class="a" style="left:377.60px;top:397.94px;width:145.60px;height:0.60px;background:#f3f3f3;"></div>
<div class="a" style="left:377.60px;top:406.88px;width:145.60px;height:0.60px;background:#f3f3f3;"></div>
<div class="a" style="left:377.60px;top:415.82px;width:145.60px;height:0.60px;background:#f3f3f3;"></div>
<div class="a" style="left:377.60px;top:424.76px;width:145.60px;height:0.60px;background:#f3f3f3;"></div>
<div class="a" style="left:421.40px;top:210.50px;width:0.60px;height:214.56px;background:#f3f3f3;"></div>
<div class="a" style="left:456.40px;top:210.50px;width:0.60px;height:214.56px;background:#f3f3f3;"></div>
<div class="a" style="left:491.30px;top:210.50px;width:0.60px;height:214.56px;background:#f3f3f3;"></div>
<div class="a" style="left:418.90px;top:204.92px;width:40.00px;height:3.96px;line-height:3.96px;font-size:3.3px;color:#1c1c1c;text-align:center;font-weight:bold;letter-spacing:1.25px;white-space:nowrap;font-family:'Liberation Sans', sans-serif;-webkit-text-stroke:0.1px #1c1c1c">BUDGET</div>
<div class="a" style="left:453.90px;top:204.92px;width:40.00px;height:3.96px;line-height:3.96px;font-size:3.3px;color:#1c1c1c;text-align:center;font-weight:bold;letter-spacing:1.25px;white-space:nowrap;font-family:'Liberation Sans', sans-serif;-webkit-text-stroke:0.1px #1c1c1c">ACTUAL</div>
<div class="a" style="left:487.40px;top:204.92px;width:40.00px;height:3.96px;line-height:3.96px;font-size:3.3px;color:#1c1c1c;text-align:center;font-weight:bold;letter-spacing:1.25px;white-space:nowrap;font-family:'Liberation Sans', sans-serif;-webkit-text-stroke:0.1px #1c1c1c">LEFT</div>
<div class="a" style="left:421.90px;top:212.43px;width:6.00px;height:5.28px;line-height:5.28px;font-size:4.4px;color:#424242;text-align:center;font-weight:normal;letter-spacing:0.15px;white-space:nowrap;font-family:'Liberation Sans', sans-serif;-webkit-text-stroke:0.07px #424242">$</div>
<div class="a" style="left:455.80px;top:212.43px;width:6.00px;height:5.28px;line-height:5.28px;font-size:4.4px;color:#424242;text-align:center;font-weight:normal;letter-spacing:0.15px;white-space:nowrap;font-family:'Liberation Sans', sans-serif;-webkit-text-stroke:0.07px #424242">$</div>
<div class="a" style="left:491.80px;top:212.43px;width:6.00px;height:5.28px;line-height:5.28px;font-size:4.4px;color:#424242;text-align:center;font-weight:normal;letter-spacing:0.15px;white-space:nowrap;font-family:'Liberation Sans', sans-serif;-webkit-text-stroke:0.07px #424242">$</div>
<div class="a" style="left:378.80px;top:212.43px;width:40.00px;height:5.28px;line-height:5.28px;font-size:4.4px;color:#424242;text-align:center;font-weight:normal;letter-spacing:0.15px;white-space:nowrap;font-family:'Liberation Sans', sans-serif;-webkit-text-stroke:0.07px #424242">Transport</div>
<div class="a" style="left:431.30px;top:212.43px;width:24.00px;height:5.28px;line-height:5.28px;font-size:4.4px;color:#424242;text-align:left;font-weight:normal;letter-spacing:0.15px;white-space:nowrap;font-family:'Liberation Sans', sans-serif;-webkit-text-stroke:0.07px #424242">100.00</div>
<div class="a" style="left:466.20px;top:212.43px;width:24.00px;height:5.28px;line-height:5.28px;font-size:4.4px;color:#424242;text-align:left;font-weight:normal;letter-spacing:0.15px;white-space:nowrap;font-family:'Liberation Sans', sans-serif;-webkit-text-stroke:0.07px #424242"></div>
<div class="a" style="left:501.40px;top:212.43px;width:24.00px;height:5.28px;line-height:5.28px;font-size:4.4px;color:#424242;text-align:left;font-weight:normal;letter-spacing:0.15px;white-space:nowrap;font-family:'Liberation Sans', sans-serif;-webkit-text-stroke:0.07px #424242">100.00</div>
<div class="a" style="left:421.90px;top:221.37px;width:6.00px;height:5.28px;line-height:5.28px;font-size:4.4px;color:#424242;text-align:center;font-weight:normal;letter-spacing:0.15px;white-space:nowrap;font-family:'Liberation Sans', sans-serif;-webkit-text-stroke:0.07px #424242">$</div>
<div class="a" style="left:455.80px;top:221.37px;width:6.00px;height:5.28px;line-height:5.28px;font-size:4.4px;color:#424242;text-align:center;font-weight:normal;letter-spacing:0.15px;white-space:nowrap;font-family:'Liberation Sans', sans-serif;-webkit-text-stroke:0.07px #424242">$</div>
<div class="a" style="left:491.80px;top:221.37px;width:6.00px;height:5.28px;line-height:5.28px;font-size:4.4px;color:#424242;text-align:center;font-weight:normal;letter-spacing:0.15px;white-space:nowrap;font-family:'Liberation Sans', sans-serif;-webkit-text-stroke:0.07px #424242">$</div>
<div class="a" style="left:378.80px;top:221.37px;width:40.00px;height:5.28px;line-height:5.28px;font-size:4.4px;color:#424242;text-align:center;font-weight:normal;letter-spacing:0.15px;white-space:nowrap;font-family:'Liberation Sans', sans-serif;-webkit-text-stroke:0.07px #424242">Groceries</div>
<div class="a" style="left:431.30px;top:221.37px;width:24.00px;height:5.28px;line-height:5.28px;font-size:4.4px;color:#424242;text-align:left;font-weight:normal;letter-spacing:0.15px;white-space:nowrap;font-family:'Liberation Sans', sans-serif;-webkit-text-stroke:0.07px #424242">500.00</div>
<div class="a" style="left:466.20px;top:221.37px;width:24.00px;height:5.28px;line-height:5.28px;font-size:4.4px;color:#424242;text-align:left;font-weight:normal;letter-spacing:0.15px;white-space:nowrap;font-family:'Liberation Sans', sans-serif;-webkit-text-stroke:0.07px #424242">150.00</div>
<div class="a" style="left:501.40px;top:221.37px;width:24.00px;height:5.28px;line-height:5.28px;font-size:4.4px;color:#424242;text-align:left;font-weight:normal;letter-spacing:0.15px;white-space:nowrap;font-family:'Liberation Sans', sans-serif;-webkit-text-stroke:0.07px #424242">350.00</div>
<div class="a" style="left:421.90px;top:230.31px;width:6.00px;height:5.28px;line-height:5.28px;font-size:4.4px;color:#424242;text-align:center;font-weight:normal;letter-spacing:0.15px;white-space:nowrap;font-family:'Liberation Sans', sans-serif;-webkit-text-stroke:0.07px #424242">$</div>
<div class="a" style="left:455.80px;top:230.31px;width:6.00px;height:5.28px;line-height:5.28px;font-size:4.4px;color:#424242;text-align:center;font-weight:normal;letter-spacing:0.15px;white-space:nowrap;font-family:'Liberation Sans', sans-serif;-webkit-text-stroke:0.07px #424242">$</div>
<div class="a" style="left:491.80px;top:230.31px;width:6.00px;height:5.28px;line-height:5.28px;font-size:4.4px;color:#424242;text-align:center;font-weight:normal;letter-spacing:0.15px;white-space:nowrap;font-family:'Liberation Sans', sans-serif;-webkit-text-stroke:0.07px #424242">$</div>
<div class="a" style="left:378.80px;top:230.31px;width:40.00px;height:5.28px;line-height:5.28px;font-size:4.4px;color:#424242;text-align:center;font-weight:normal;letter-spacing:0.15px;white-space:nowrap;font-family:'Liberation Sans', sans-serif;-webkit-text-stroke:0.07px #424242">Dining Out</div>
<div class="a" style="left:431.30px;top:230.31px;width:24.00px;height:5.28px;line-height:5.28px;font-size:4.4px;color:#424242;text-align:left;font-weight:normal;letter-spacing:0.15px;white-space:nowrap;font-family:'Liberation Sans', sans-serif;-webkit-text-stroke:0.07px #424242">250.00</div>
<div class="a" style="left:466.20px;top:230.31px;width:24.00px;height:5.28px;line-height:5.28px;font-size:4.4px;color:#424242;text-align:left;font-weight:normal;letter-spacing:0.15px;white-space:nowrap;font-family:'Liberation Sans', sans-serif;-webkit-text-stroke:0.07px #424242">125.00</div>
<div class="a" style="left:501.40px;top:230.31px;width:24.00px;height:5.28px;line-height:5.28px;font-size:4.4px;color:#424242;text-align:left;font-weight:normal;letter-spacing:0.15px;white-space:nowrap;font-family:'Liberation Sans', sans-serif;-webkit-text-stroke:0.07px #424242">125.00</div>
<div class="a" style="left:421.90px;top:239.25px;width:6.00px;height:5.28px;line-height:5.28px;font-size:4.4px;color:#424242;text-align:center;font-weight:normal;letter-spacing:0.15px;white-space:nowrap;font-family:'Liberation Sans', sans-serif;-webkit-text-stroke:0.07px #424242">$</div>
<div class="a" style="left:455.80px;top:239.25px;width:6.00px;height:5.28px;line-height:5.28px;font-size:4.4px;color:#424242;text-align:center;font-weight:normal;letter-spacing:0.15px;white-space:nowrap;font-family:'Liberation Sans', sans-serif;-webkit-text-stroke:0.07px #424242">$</div>
<div class="a" style="left:491.80px;top:239.25px;width:6.00px;height:5.28px;line-height:5.28px;font-size:4.4px;color:#424242;text-align:center;font-weight:normal;letter-spacing:0.15px;white-space:nowrap;font-family:'Liberation Sans', sans-serif;-webkit-text-stroke:0.07px #424242">$</div>
<div class="a" style="left:378.80px;top:239.25px;width:40.00px;height:5.28px;line-height:5.28px;font-size:4.4px;color:#424242;text-align:center;font-weight:normal;letter-spacing:0.15px;white-space:nowrap;font-family:'Liberation Sans', sans-serif;-webkit-text-stroke:0.07px #424242">Coffee</div>
<div class="a" style="left:431.30px;top:239.25px;width:24.00px;height:5.28px;line-height:5.28px;font-size:4.4px;color:#424242;text-align:left;font-weight:normal;letter-spacing:0.15px;white-space:nowrap;font-family:'Liberation Sans', sans-serif;-webkit-text-stroke:0.07px #424242">100.00</div>
<div class="a" style="left:466.20px;top:239.25px;width:24.00px;height:5.28px;line-height:5.28px;font-size:4.4px;color:#424242;text-align:left;font-weight:normal;letter-spacing:0.15px;white-space:nowrap;font-family:'Liberation Sans', sans-serif;-webkit-text-stroke:0.07px #424242"></div>
<div class="a" style="left:501.40px;top:239.25px;width:24.00px;height:5.28px;line-height:5.28px;font-size:4.4px;color:#424242;text-align:left;font-weight:normal;letter-spacing:0.15px;white-space:nowrap;font-family:'Liberation Sans', sans-serif;-webkit-text-stroke:0.07px #424242">100.00</div>
<div class="a" style="left:421.90px;top:248.19px;width:6.00px;height:5.28px;line-height:5.28px;font-size:4.4px;color:#424242;text-align:center;font-weight:normal;letter-spacing:0.15px;white-space:nowrap;font-family:'Liberation Sans', sans-serif;-webkit-text-stroke:0.07px #424242">$</div>
<div class="a" style="left:455.80px;top:248.19px;width:6.00px;height:5.28px;line-height:5.28px;font-size:4.4px;color:#424242;text-align:center;font-weight:normal;letter-spacing:0.15px;white-space:nowrap;font-family:'Liberation Sans', sans-serif;-webkit-text-stroke:0.07px #424242">$</div>
<div class="a" style="left:491.80px;top:248.19px;width:6.00px;height:5.28px;line-height:5.28px;font-size:4.4px;color:#424242;text-align:center;font-weight:normal;letter-spacing:0.15px;white-space:nowrap;font-family:'Liberation Sans', sans-serif;-webkit-text-stroke:0.07px #424242">$</div>
<div class="a" style="left:378.80px;top:248.19px;width:40.00px;height:5.28px;line-height:5.28px;font-size:4.4px;color:#424242;text-align:center;font-weight:normal;letter-spacing:0.15px;white-space:nowrap;font-family:'Liberation Sans', sans-serif;-webkit-text-stroke:0.07px #424242">Fuel</div>
<div class="a" style="left:431.30px;top:248.19px;width:24.00px;height:5.28px;line-height:5.28px;font-size:4.4px;color:#424242;text-align:left;font-weight:normal;letter-spacing:0.15px;white-space:nowrap;font-family:'Liberation Sans', sans-serif;-webkit-text-stroke:0.07px #424242">50.00</div>
<div class="a" style="left:466.20px;top:248.19px;width:24.00px;height:5.28px;line-height:5.28px;font-size:4.4px;color:#424242;text-align:left;font-weight:normal;letter-spacing:0.15px;white-space:nowrap;font-family:'Liberation Sans', sans-serif;-webkit-text-stroke:0.07px #424242"></div>
<div class="a" style="left:501.40px;top:248.19px;width:24.00px;height:5.28px;line-height:5.28px;font-size:4.4px;color:#424242;text-align:left;font-weight:normal;letter-spacing:0.15px;white-space:nowrap;font-family:'Liberation Sans', sans-serif;-webkit-text-stroke:0.07px #424242">50.00</div>
<div class="a" style="left:421.90px;top:257.13px;width:6.00px;height:5.28px;line-height:5.28px;font-size:4.4px;color:#424242;text-align:center;font-weight:normal;letter-spacing:0.15px;white-space:nowrap;font-family:'Liberation Sans', sans-serif;-webkit-text-stroke:0.07px #424242">$</div>
<div class="a" style="left:455.80px;top:257.13px;width:6.00px;height:5.28px;line-height:5.28px;font-size:4.4px;color:#424242;text-align:center;font-weight:normal;letter-spacing:0.15px;white-space:nowrap;font-family:'Liberation Sans', sans-serif;-webkit-text-stroke:0.07px #424242">$</div>
<div class="a" style="left:491.80px;top:257.13px;width:6.00px;height:5.28px;line-height:5.28px;font-size:4.4px;color:#424242;text-align:center;font-weight:normal;letter-spacing:0.15px;white-space:nowrap;font-family:'Liberation Sans', sans-serif;-webkit-text-stroke:0.07px #424242">$</div>
<div class="a" style="left:378.80px;top:257.13px;width:40.00px;height:5.28px;line-height:5.28px;font-size:4.4px;color:#424242;text-align:center;font-weight:normal;letter-spacing:0.15px;white-space:nowrap;font-family:'Liberation Sans', sans-serif;-webkit-text-stroke:0.07px #424242">Health</div>
<div class="a" style="left:431.30px;top:257.13px;width:24.00px;height:5.28px;line-height:5.28px;font-size:4.4px;color:#424242;text-align:left;font-weight:normal;letter-spacing:0.15px;white-space:nowrap;font-family:'Liberation Sans', sans-serif;-webkit-text-stroke:0.07px #424242">150.00</div>
<div class="a" style="left:466.20px;top:257.13px;width:24.00px;height:5.28px;line-height:5.28px;font-size:4.4px;color:#424242;text-align:left;font-weight:normal;letter-spacing:0.15px;white-space:nowrap;font-family:'Liberation Sans', sans-serif;-webkit-text-stroke:0.07px #424242">50.00</div>
<div class="a" style="left:501.40px;top:257.13px;width:24.00px;height:5.28px;line-height:5.28px;font-size:4.4px;color:#424242;text-align:left;font-weight:normal;letter-spacing:0.15px;white-space:nowrap;font-family:'Liberation Sans', sans-serif;-webkit-text-stroke:0.07px #424242">100.00</div>
<div class="a" style="left:421.90px;top:266.07px;width:6.00px;height:5.28px;line-height:5.28px;font-size:4.4px;color:#424242;text-align:center;font-weight:normal;letter-spacing:0.15px;white-space:nowrap;font-family:'Liberation Sans', sans-serif;-webkit-text-stroke:0.07px #424242">$</div>
<div class="a" style="left:455.80px;top:266.07px;width:6.00px;height:5.28px;line-height:5.28px;font-size:4.4px;color:#424242;text-align:center;font-weight:normal;letter-spacing:0.15px;white-space:nowrap;font-family:'Liberation Sans', sans-serif;-webkit-text-stroke:0.07px #424242">$</div>
<div class="a" style="left:491.80px;top:266.07px;width:6.00px;height:5.28px;line-height:5.28px;font-size:4.4px;color:#424242;text-align:center;font-weight:normal;letter-spacing:0.15px;white-space:nowrap;font-family:'Liberation Sans', sans-serif;-webkit-text-stroke:0.07px #424242">$</div>
<div class="a" style="left:378.80px;top:266.07px;width:40.00px;height:5.28px;line-height:5.28px;font-size:4.4px;color:#424242;text-align:center;font-weight:normal;letter-spacing:0.15px;white-space:nowrap;font-family:'Liberation Sans', sans-serif;-webkit-text-stroke:0.07px #424242">Beauty</div>
<div class="a" style="left:431.30px;top:266.07px;width:24.00px;height:5.28px;line-height:5.28px;font-size:4.4px;color:#424242;text-align:left;font-weight:normal;letter-spacing:0.15px;white-space:nowrap;font-family:'Liberation Sans', sans-serif;-webkit-text-stroke:0.07px #424242">50.00</div>
<div class="a" style="left:466.20px;top:266.07px;width:24.00px;height:5.28px;line-height:5.28px;font-size:4.4px;color:#424242;text-align:left;font-weight:normal;letter-spacing:0.15px;white-space:nowrap;font-family:'Liberation Sans', sans-serif;-webkit-text-stroke:0.07px #424242"></div>
<div class="a" style="left:501.40px;top:266.07px;width:24.00px;height:5.28px;line-height:5.28px;font-size:4.4px;color:#424242;text-align:left;font-weight:normal;letter-spacing:0.15px;white-space:nowrap;font-family:'Liberation Sans', sans-serif;-webkit-text-stroke:0.07px #424242">50.00</div>
<div class="a" style="left:421.90px;top:275.01px;width:6.00px;height:5.28px;line-height:5.28px;font-size:4.4px;color:#424242;text-align:center;font-weight:normal;letter-spacing:0.15px;white-space:nowrap;font-family:'Liberation Sans', sans-serif;-webkit-text-stroke:0.07px #424242">$</div>
<div class="a" style="left:455.80px;top:275.01px;width:6.00px;height:5.28px;line-height:5.28px;font-size:4.4px;color:#424242;text-align:center;font-weight:normal;letter-spacing:0.15px;white-space:nowrap;font-family:'Liberation Sans', sans-serif;-webkit-text-stroke:0.07px #424242">$</div>
<div class="a" style="left:491.80px;top:275.01px;width:6.00px;height:5.28px;line-height:5.28px;font-size:4.4px;color:#424242;text-align:center;font-weight:normal;letter-spacing:0.15px;white-space:nowrap;font-family:'Liberation Sans', sans-serif;-webkit-text-stroke:0.07px #424242">$</div>
<div class="a" style="left:378.80px;top:275.01px;width:40.00px;height:5.28px;line-height:5.28px;font-size:4.4px;color:#424242;text-align:center;font-weight:normal;letter-spacing:0.15px;white-space:nowrap;font-family:'Liberation Sans', sans-serif;-webkit-text-stroke:0.07px #424242">Clothes</div>
<div class="a" style="left:431.30px;top:275.01px;width:24.00px;height:5.28px;line-height:5.28px;font-size:4.4px;color:#424242;text-align:left;font-weight:normal;letter-spacing:0.15px;white-space:nowrap;font-family:'Liberation Sans', sans-serif;-webkit-text-stroke:0.07px #424242">150.00</div>
<div class="a" style="left:466.20px;top:275.01px;width:24.00px;height:5.28px;line-height:5.28px;font-size:4.4px;color:#424242;text-align:left;font-weight:normal;letter-spacing:0.15px;white-space:nowrap;font-family:'Liberation Sans', sans-serif;-webkit-text-stroke:0.07px #424242"></div>
<div class="a" style="left:501.40px;top:275.01px;width:24.00px;height:5.28px;line-height:5.28px;font-size:4.4px;color:#424242;text-align:left;font-weight:normal;letter-spacing:0.15px;white-space:nowrap;font-family:'Liberation Sans', sans-serif;-webkit-text-stroke:0.07px #424242">150.00</div>
<div class="a" style="left:421.90px;top:283.95px;width:6.00px;height:5.28px;line-height:5.28px;font-size:4.4px;color:#424242;text-align:center;font-weight:normal;letter-spacing:0.15px;white-space:nowrap;font-family:'Liberation Sans', sans-serif;-webkit-text-stroke:0.07px #424242">$</div>
<div class="a" style="left:455.80px;top:283.95px;width:6.00px;height:5.28px;line-height:5.28px;font-size:4.4px;color:#424242;text-align:center;font-weight:normal;letter-spacing:0.15px;white-space:nowrap;font-family:'Liberation Sans', sans-serif;-webkit-text-stroke:0.07px #424242">$</div>
<div class="a" style="left:491.80px;top:283.95px;width:6.00px;height:5.28px;line-height:5.28px;font-size:4.4px;color:#424242;text-align:center;font-weight:normal;letter-spacing:0.15px;white-space:nowrap;font-family:'Liberation Sans', sans-serif;-webkit-text-stroke:0.07px #424242">$</div>
<div class="a" style="left:378.80px;top:283.95px;width:40.00px;height:5.28px;line-height:5.28px;font-size:4.4px;color:#424242;text-align:center;font-weight:normal;letter-spacing:0.15px;white-space:nowrap;font-family:'Liberation Sans', sans-serif;-webkit-text-stroke:0.07px #424242">Gifts</div>
<div class="a" style="left:431.30px;top:283.95px;width:24.00px;height:5.28px;line-height:5.28px;font-size:4.4px;color:#424242;text-align:left;font-weight:normal;letter-spacing:0.15px;white-space:nowrap;font-family:'Liberation Sans', sans-serif;-webkit-text-stroke:0.07px #424242">100.00</div>
<div class="a" style="left:466.20px;top:283.95px;width:24.00px;height:5.28px;line-height:5.28px;font-size:4.4px;color:#424242;text-align:left;font-weight:normal;letter-spacing:0.15px;white-space:nowrap;font-family:'Liberation Sans', sans-serif;-webkit-text-stroke:0.07px #424242"></div>
<div class="a" style="left:501.40px;top:283.95px;width:24.00px;height:5.28px;line-height:5.28px;font-size:4.4px;color:#424242;text-align:left;font-weight:normal;letter-spacing:0.15px;white-space:nowrap;font-family:'Liberation Sans', sans-serif;-webkit-text-stroke:0.07px #424242">100.00</div>
<div class="a" style="left:421.90px;top:292.89px;width:6.00px;height:5.28px;line-height:5.28px;font-size:4.4px;color:#424242;text-align:center;font-weight:normal;letter-spacing:0.15px;white-space:nowrap;font-family:'Liberation Sans', sans-serif;-webkit-text-stroke:0.07px #424242">$</div>
<div class="a" style="left:455.80px;top:292.89px;width:6.00px;height:5.28px;line-height:5.28px;font-size:4.4px;color:#424242;text-align:center;font-weight:normal;letter-spacing:0.15px;white-space:nowrap;font-family:'Liberation Sans', sans-serif;-webkit-text-stroke:0.07px #424242">$</div>
<div class="a" style="left:491.80px;top:292.89px;width:6.00px;height:5.28px;line-height:5.28px;font-size:4.4px;color:#424242;text-align:center;font-weight:normal;letter-spacing:0.15px;white-space:nowrap;font-family:'Liberation Sans', sans-serif;-webkit-text-stroke:0.07px #424242">$</div>
<div class="a" style="left:378.80px;top:292.89px;width:40.00px;height:5.28px;line-height:5.28px;font-size:4.4px;color:#424242;text-align:center;font-weight:normal;letter-spacing:0.15px;white-space:nowrap;font-family:'Liberation Sans', sans-serif;-webkit-text-stroke:0.07px #424242">Entertainment</div>
<div class="a" style="left:431.30px;top:292.89px;width:24.00px;height:5.28px;line-height:5.28px;font-size:4.4px;color:#424242;text-align:left;font-weight:normal;letter-spacing:0.15px;white-space:nowrap;font-family:'Liberation Sans', sans-serif;-webkit-text-stroke:0.07px #424242"></div>
<div class="a" style="left:466.20px;top:292.89px;width:24.00px;height:5.28px;line-height:5.28px;font-size:4.4px;color:#424242;text-align:left;font-weight:normal;letter-spacing:0.15px;white-space:nowrap;font-family:'Liberation Sans', sans-serif;-webkit-text-stroke:0.07px #424242"></div>
<div class="a" style="left:501.40px;top:292.89px;width:24.00px;height:5.28px;line-height:5.28px;font-size:4.4px;color:#424242;text-align:left;font-weight:normal;letter-spacing:0.15px;white-space:nowrap;font-family:'Liberation Sans', sans-serif;-webkit-text-stroke:0.07px #424242"></div>
<div class="a" style="left:421.90px;top:301.83px;width:6.00px;height:5.28px;line-height:5.28px;font-size:4.4px;color:#424242;text-align:center;font-weight:normal;letter-spacing:0.15px;white-space:nowrap;font-family:'Liberation Sans', sans-serif;-webkit-text-stroke:0.07px #424242">$</div>
<div class="a" style="left:455.80px;top:301.83px;width:6.00px;height:5.28px;line-height:5.28px;font-size:4.4px;color:#424242;text-align:center;font-weight:normal;letter-spacing:0.15px;white-space:nowrap;font-family:'Liberation Sans', sans-serif;-webkit-text-stroke:0.07px #424242">$</div>
<div class="a" style="left:491.80px;top:301.83px;width:6.00px;height:5.28px;line-height:5.28px;font-size:4.4px;color:#424242;text-align:center;font-weight:normal;letter-spacing:0.15px;white-space:nowrap;font-family:'Liberation Sans', sans-serif;-webkit-text-stroke:0.07px #424242">$</div>
<div class="a" style="left:378.80px;top:301.83px;width:40.00px;height:5.28px;line-height:5.28px;font-size:4.4px;color:#424242;text-align:center;font-weight:normal;letter-spacing:0.15px;white-space:nowrap;font-family:'Liberation Sans', sans-serif;-webkit-text-stroke:0.07px #424242">Miscellaneous</div>
<div class="a" style="left:431.30px;top:301.83px;width:24.00px;height:5.28px;line-height:5.28px;font-size:4.4px;color:#424242;text-align:left;font-weight:normal;letter-spacing:0.15px;white-space:nowrap;font-family:'Liberation Sans', sans-serif;-webkit-text-stroke:0.07px #424242"></div>
<div class="a" style="left:466.20px;top:301.83px;width:24.00px;height:5.28px;line-height:5.28px;font-size:4.4px;color:#424242;text-align:left;font-weight:normal;letter-spacing:0.15px;white-space:nowrap;font-family:'Liberation Sans', sans-serif;-webkit-text-stroke:0.07px #424242"></div>
<div class="a" style="left:501.40px;top:301.83px;width:24.00px;height:5.28px;line-height:5.28px;font-size:4.4px;color:#424242;text-align:left;font-weight:normal;letter-spacing:0.15px;white-space:nowrap;font-family:'Liberation Sans', sans-serif;-webkit-text-stroke:0.07px #424242"></div>
<div class="a" style="left:421.90px;top:310.77px;width:6.00px;height:5.28px;line-height:5.28px;font-size:4.4px;color:#424242;text-align:center;font-weight:normal;letter-spacing:0.15px;white-space:nowrap;font-family:'Liberation Sans', sans-serif;-webkit-text-stroke:0.07px #424242">$</div>
<div class="a" style="left:455.80px;top:310.77px;width:6.00px;height:5.28px;line-height:5.28px;font-size:4.4px;color:#424242;text-align:center;font-weight:normal;letter-spacing:0.15px;white-space:nowrap;font-family:'Liberation Sans', sans-serif;-webkit-text-stroke:0.07px #424242">$</div>
<div class="a" style="left:491.80px;top:310.77px;width:6.00px;height:5.28px;line-height:5.28px;font-size:4.4px;color:#424242;text-align:center;font-weight:normal;letter-spacing:0.15px;white-space:nowrap;font-family:'Liberation Sans', sans-serif;-webkit-text-stroke:0.07px #424242">$</div>
<div class="a" style="left:421.90px;top:319.71px;width:6.00px;height:5.28px;line-height:5.28px;font-size:4.4px;color:#424242;text-align:center;font-weight:normal;letter-spacing:0.15px;white-space:nowrap;font-family:'Liberation Sans', sans-serif;-webkit-text-stroke:0.07px #424242">$</div>
<div class="a" style="left:455.80px;top:319.71px;width:6.00px;height:5.28px;line-height:5.28px;font-size:4.4px;color:#424242;text-align:center;font-weight:normal;letter-spacing:0.15px;white-space:nowrap;font-family:'Liberation Sans', sans-serif;-webkit-text-stroke:0.07px #424242">$</div>
<div class="a" style="left:491.80px;top:319.71px;width:6.00px;height:5.28px;line-height:5.28px;font-size:4.4px;color:#424242;text-align:center;font-weight:normal;letter-spacing:0.15px;white-space:nowrap;font-family:'Liberation Sans', sans-serif;-webkit-text-stroke:0.07px #424242">$</div>
<div class="a" style="left:421.90px;top:328.65px;width:6.00px;height:5.28px;line-height:5.28px;font-size:4.4px;color:#424242;text-align:center;font-weight:normal;letter-spacing:0.15px;white-space:nowrap;font-family:'Liberation Sans', sans-serif;-webkit-text-stroke:0.07px #424242">$</div>
<div class="a" style="left:455.80px;top:328.65px;width:6.00px;height:5.28px;line-height:5.28px;font-size:4.4px;color:#424242;text-align:center;font-weight:normal;letter-spacing:0.15px;white-space:nowrap;font-family:'Liberation Sans', sans-serif;-webkit-text-stroke:0.07px #424242">$</div>
<div class="a" style="left:491.80px;top:328.65px;width:6.00px;height:5.28px;line-height:5.28px;font-size:4.4px;color:#424242;text-align:center;font-weight:normal;letter-spacing:0.15px;white-space:nowrap;font-family:'Liberation Sans', sans-serif;-webkit-text-stroke:0.07px #424242">$</div>
<div class="a" style="left:421.90px;top:337.59px;width:6.00px;height:5.28px;line-height:5.28px;font-size:4.4px;color:#424242;text-align:center;font-weight:normal;letter-spacing:0.15px;white-space:nowrap;font-family:'Liberation Sans', sans-serif;-webkit-text-stroke:0.07px #424242">$</div>
<div class="a" style="left:455.80px;top:337.59px;width:6.00px;height:5.28px;line-height:5.28px;font-size:4.4px;color:#424242;text-align:center;font-weight:normal;letter-spacing:0.15px;white-space:nowrap;font-family:'Liberation Sans', sans-serif;-webkit-text-stroke:0.07px #424242">$</div>
<div class="a" style="left:491.80px;top:337.59px;width:6.00px;height:5.28px;line-height:5.28px;font-size:4.4px;color:#424242;text-align:center;font-weight:normal;letter-spacing:0.15px;white-space:nowrap;font-family:'Liberation Sans', sans-serif;-webkit-text-stroke:0.07px #424242">$</div>
<div class="a" style="left:421.90px;top:346.53px;width:6.00px;height:5.28px;line-height:5.28px;font-size:4.4px;color:#424242;text-align:center;font-weight:normal;letter-spacing:0.15px;white-space:nowrap;font-family:'Liberation Sans', sans-serif;-webkit-text-stroke:0.07px #424242">$</div>
<div class="a" style="left:455.80px;top:346.53px;width:6.00px;height:5.28px;line-height:5.28px;font-size:4.4px;color:#424242;text-align:center;font-weight:normal;letter-spacing:0.15px;white-space:nowrap;font-family:'Liberation Sans', sans-serif;-webkit-text-stroke:0.07px #424242">$</div>
<div class="a" style="left:491.80px;top:346.53px;width:6.00px;height:5.28px;line-height:5.28px;font-size:4.4px;color:#424242;text-align:center;font-weight:normal;letter-spacing:0.15px;white-space:nowrap;font-family:'Liberation Sans', sans-serif;-webkit-text-stroke:0.07px #424242">$</div>
<div class="a" style="left:421.90px;top:355.47px;width:6.00px;height:5.28px;line-height:5.28px;font-size:4.4px;color:#424242;text-align:center;font-weight:normal;letter-spacing:0.15px;white-space:nowrap;font-family:'Liberation Sans', sans-serif;-webkit-text-stroke:0.07px #424242">$</div>
<div class="a" style="left:455.80px;top:355.47px;width:6.00px;height:5.28px;line-height:5.28px;font-size:4.4px;color:#424242;text-align:center;font-weight:normal;letter-spacing:0.15px;white-space:nowrap;font-family:'Liberation Sans', sans-serif;-webkit-text-stroke:0.07px #424242">$</div>
<div class="a" style="left:491.80px;top:355.47px;width:6.00px;height:5.28px;line-height:5.28px;font-size:4.4px;color:#424242;text-align:center;font-weight:normal;letter-spacing:0.15px;white-space:nowrap;font-family:'Liberation Sans', sans-serif;-webkit-text-stroke:0.07px #424242">$</div>
<div class="a" style="left:421.90px;top:364.41px;width:6.00px;height:5.28px;line-height:5.28px;font-size:4.4px;color:#424242;text-align:center;font-weight:normal;letter-spacing:0.15px;white-space:nowrap;font-family:'Liberation Sans', sans-serif;-webkit-text-stroke:0.07px #424242">$</div>
<div class="a" style="left:455.80px;top:364.41px;width:6.00px;height:5.28px;line-height:5.28px;font-size:4.4px;color:#424242;text-align:center;font-weight:normal;letter-spacing:0.15px;white-space:nowrap;font-family:'Liberation Sans', sans-serif;-webkit-text-stroke:0.07px #424242">$</div>
<div class="a" style="left:491.80px;top:364.41px;width:6.00px;height:5.28px;line-height:5.28px;font-size:4.4px;color:#424242;text-align:center;font-weight:normal;letter-spacing:0.15px;white-space:nowrap;font-family:'Liberation Sans', sans-serif;-webkit-text-stroke:0.07px #424242">$</div>
<div class="a" style="left:421.90px;top:373.35px;width:6.00px;height:5.28px;line-height:5.28px;font-size:4.4px;color:#424242;text-align:center;font-weight:normal;letter-spacing:0.15px;white-space:nowrap;font-family:'Liberation Sans', sans-serif;-webkit-text-stroke:0.07px #424242">$</div>
<div class="a" style="left:455.80px;top:373.35px;width:6.00px;height:5.28px;line-height:5.28px;font-size:4.4px;color:#424242;text-align:center;font-weight:normal;letter-spacing:0.15px;white-space:nowrap;font-family:'Liberation Sans', sans-serif;-webkit-text-stroke:0.07px #424242">$</div>
<div class="a" style="left:491.80px;top:373.35px;width:6.00px;height:5.28px;line-height:5.28px;font-size:4.4px;color:#424242;text-align:center;font-weight:normal;letter-spacing:0.15px;white-space:nowrap;font-family:'Liberation Sans', sans-serif;-webkit-text-stroke:0.07px #424242">$</div>
<div class="a" style="left:421.90px;top:382.29px;width:6.00px;height:5.28px;line-height:5.28px;font-size:4.4px;color:#424242;text-align:center;font-weight:normal;letter-spacing:0.15px;white-space:nowrap;font-family:'Liberation Sans', sans-serif;-webkit-text-stroke:0.07px #424242">$</div>
<div class="a" style="left:455.80px;top:382.29px;width:6.00px;height:5.28px;line-height:5.28px;font-size:4.4px;color:#424242;text-align:center;font-weight:normal;letter-spacing:0.15px;white-space:nowrap;font-family:'Liberation Sans', sans-serif;-webkit-text-stroke:0.07px #424242">$</div>
<div class="a" style="left:491.80px;top:382.29px;width:6.00px;height:5.28px;line-height:5.28px;font-size:4.4px;color:#424242;text-align:center;font-weight:normal;letter-spacing:0.15px;white-space:nowrap;font-family:'Liberation Sans', sans-serif;-webkit-text-stroke:0.07px #424242">$</div>
<div class="a" style="left:421.90px;top:391.23px;width:6.00px;height:5.28px;line-height:5.28px;font-size:4.4px;color:#424242;text-align:center;font-weight:normal;letter-spacing:0.15px;white-space:nowrap;font-family:'Liberation Sans', sans-serif;-webkit-text-stroke:0.07px #424242">$</div>
<div class="a" style="left:455.80px;top:391.23px;width:6.00px;height:5.28px;line-height:5.28px;font-size:4.4px;color:#424242;text-align:center;font-weight:normal;letter-spacing:0.15px;white-space:nowrap;font-family:'Liberation Sans', sans-serif;-webkit-text-stroke:0.07px #424242">$</div>
<div class="a" style="left:491.80px;top:391.23px;width:6.00px;height:5.28px;line-height:5.28px;font-size:4.4px;color:#424242;text-align:center;font-weight:normal;letter-spacing:0.15px;white-space:nowrap;font-family:'Liberation Sans', sans-serif;-webkit-text-stroke:0.07px #424242">$</div>
<div class="a" style="left:421.90px;top:400.17px;width:6.00px;height:5.28px;line-height:5.28px;font-size:4.4px;color:#424242;text-align:center;font-weight:normal;letter-spacing:0.15px;white-space:nowrap;font-family:'Liberation Sans', sans-serif;-webkit-text-stroke:0.07px #424242">$</div>
<div class="a" style="left:455.80px;top:400.17px;width:6.00px;height:5.28px;line-height:5.28px;font-size:4.4px;color:#424242;text-align:center;font-weight:normal;letter-spacing:0.15px;white-space:nowrap;font-family:'Liberation Sans', sans-serif;-webkit-text-stroke:0.07px #424242">$</div>
<div class="a" style="left:491.80px;top:400.17px;width:6.00px;height:5.28px;line-height:5.28px;font-size:4.4px;color:#424242;text-align:center;font-weight:normal;letter-spacing:0.15px;white-space:nowrap;font-family:'Liberation Sans', sans-serif;-webkit-text-stroke:0.07px #424242">$</div>
<div class="a" style="left:421.90px;top:409.11px;width:6.00px;height:5.28px;line-height:5.28px;font-size:4.4px;color:#424242;text-align:center;font-weight:normal;letter-spacing:0.15px;white-space:nowrap;font-family:'Liberation Sans', sans-serif;-webkit-text-stroke:0.07px #424242">$</div>
<div class="a" style="left:455.80px;top:409.11px;width:6.00px;height:5.28px;line-height:5.28px;font-size:4.4px;color:#424242;text-align:center;font-weight:normal;letter-spacing:0.15px;white-space:nowrap;font-family:'Liberation Sans', sans-serif;-webkit-text-stroke:0.07px #424242">$</div>
<div class="a" style="left:491.80px;top:409.11px;width:6.00px;height:5.28px;line-height:5.28px;font-size:4.4px;color:#424242;text-align:center;font-weight:normal;letter-spacing:0.15px;white-space:nowrap;font-family:'Liberation Sans', sans-serif;-webkit-text-stroke:0.07px #424242">$</div>
<div class="a" style="left:421.90px;top:418.05px;width:6.00px;height:5.28px;line-height:5.28px;font-size:4.4px;color:#424242;text-align:center;font-weight:normal;letter-spacing:0.15px;white-space:nowrap;font-family:'Liberation Sans', sans-serif;-webkit-text-stroke:0.07px #424242">$</div>
<div class="a" style="left:455.80px;top:418.05px;width:6.00px;height:5.28px;line-height:5.28px;font-size:4.4px;color:#424242;text-align:center;font-weight:normal;letter-spacing:0.15px;white-space:nowrap;font-family:'Liberation Sans', sans-serif;-webkit-text-stroke:0.07px #424242">$</div>
<div class="a" style="left:491.80px;top:418.05px;width:6.00px;height:5.28px;line-height:5.28px;font-size:4.4px;color:#424242;text-align:center;font-weight:normal;letter-spacing:0.15px;white-space:nowrap;font-family:'Liberation Sans', sans-serif;-webkit-text-stroke:0.07px #424242">$</div>
<div class="a" style="left:531.90px;top:183.80px;width:129.90px;height:17.70px;background:#cde4ea;"></div>
<div class="a" style="left:537.35px;top:190.49px;width:120.00px;height:5.52px;line-height:5.52px;font-size:4.6px;color:#1c1c1c;text-align:center;font-weight:bold;letter-spacing:1.65px;white-space:nowrap;font-family:'Liberation Sans', sans-serif;-webkit-text-stroke:0.15px #1c1c1c">DEBT</div>
<div class="a" style="left:531.90px;top:201.50px;width:129.90px;height:9.00px;background:#e4f0f4;"></div>
<div class="a" style="left:531.90px;top:201.50px;width:0.60px;height:223.56px;background:#e4e4e4;"></div>
<div class="a" style="left:661.20px;top:201.50px;width:0.60px;height:223.56px;background:#e4e4e4;"></div>
<div class="a" style="left:531.90px;top:210.20px;width:129.90px;height:0.60px;background:#f3f3f3;"></div>
<div class="a" style="left:531.90px;top:219.14px;width:129.90px;height:0.60px;background:#f3f3f3;"></div>
<div class="a" style="left:531.90px;top:228.08px;width:129.90px;height:0.60px;background:#f3f3f3;"></div>
<div class="a" style="left:531.90px;top:237.02px;width:129.90px;height:0.60px;background:#f3f3f3;"></div>
<div class="a" style="left:531.90px;top:245.96px;width:129.90px;height:0.60px;background:#f3f3f3;"></div>
<div class="a" style="left:531.90px;top:254.90px;width:129.90px;height:0.60px;background:#f3f3f3;"></div>
<div class="a" style="left:531.90px;top:263.84px;width:129.90px;height:0.60px;background:#f3f3f3;"></div>
<div class="a" style="left:531.90px;top:272.78px;width:129.90px;height:0.60px;background:#f3f3f3;"></div>
<div class="a" style="left:531.90px;top:281.72px;width:129.90px;height:0.60px;background:#f3f3f3;"></div>
<div class="a" style="left:531.90px;top:290.66px;width:129.90px;height:0.60px;background:#f3f3f3;"></div>
<div class="a" style="left:531.90px;top:299.60px;width:129.90px;height:0.60px;background:#f3f3f3;"></div>
<div class="a" style="left:531.90px;top:308.54px;width:129.90px;height:0.60px;background:#f3f3f3;"></div>
<div class="a" style="left:531.90px;top:317.48px;width:129.90px;height:0.60px;background:#f3f3f3;"></div>
<div class="a" style="left:531.90px;top:326.42px;width:129.90px;height:0.60px;background:#f3f3f3;"></div>
<div class="a" style="left:531.90px;top:335.36px;width:129.90px;height:0.60px;background:#f3f3f3;"></div>
<div class="a" style="left:531.90px;top:344.30px;width:129.90px;height:0.60px;background:#f3f3f3;"></div>
<div class="a" style="left:531.90px;top:353.24px;width:129.90px;height:0.60px;background:#f3f3f3;"></div>
<div class="a" style="left:531.90px;top:362.18px;width:129.90px;height:0.60px;background:#f3f3f3;"></div>
<div class="a" style="left:531.90px;top:371.12px;width:129.90px;height:0.60px;background:#f3f3f3;"></div>
<div class="a" style="left:531.90px;top:380.06px;width:129.90px;height:0.60px;background:#f3f3f3;"></div>
<div class="a" style="left:531.90px;top:389.00px;width:129.90px;height:0.60px;background:#f3f3f3;"></div>
<div class="a" style="left:531.90px;top:397.94px;width:129.90px;height:0.60px;background:#f3f3f3;"></div>
<div class="a" style="left:531.90px;top:406.88px;width:129.90px;height:0.60px;background:#f3f3f3;"></div>
<div class="a" style="left:531.90px;top:415.82px;width:129.90px;height:0.60px;background:#f3f3f3;"></div>
<div class="a" style="left:531.90px;top:424.76px;width:129.90px;height:0.60px;background:#f3f3f3;"></div>
<div class="a" style="left:577.70px;top:210.50px;width:0.60px;height:214.56px;background:#f3f3f3;"></div>
<div class="a" style="left:594.20px;top:210.50px;width:0.60px;height:214.56px;background:#f3f3f3;"></div>
<div class="a" style="left:628.00px;top:210.50px;width:0.60px;height:214.56px;background:#f3f3f3;"></div>
<div class="a" style="left:565.90px;top:204.92px;width:40.00px;height:3.96px;line-height:3.96px;font-size:3.3px;color:#1c1c1c;text-align:center;font-weight:bold;letter-spacing:1.25px;white-space:nowrap;font-family:'Liberation Sans', sans-serif;-webkit-text-stroke:0.1px #1c1c1c">DUE</div>
<div class="a" style="left:590.70px;top:204.92px;width:40.00px;height:3.96px;line-height:3.96px;font-size:3.3px;color:#1c1c1c;text-align:center;font-weight:bold;letter-spacing:1.25px;white-space:nowrap;font-family:'Liberation Sans', sans-serif;-webkit-text-stroke:0.1px #1c1c1c">BUDGET</div>
<div class="a" style="left:624.20px;top:204.92px;width:40.00px;height:3.96px;line-height:3.96px;font-size:3.3px;color:#1c1c1c;text-align:center;font-weight:bold;letter-spacing:1.25px;white-space:nowrap;font-family:'Liberation Sans', sans-serif;-webkit-text-stroke:0.1px #1c1c1c">ACTUAL</div>
<div class="a" style="left:534.2px;top:213.37px;width:4.1px;height:4.1px;border:0.5px solid #bcdbe2;background:#dfeff2"></div>
<div class="a" style="left:594.70px;top:212.43px;width:6.00px;height:5.28px;line-height:5.28px;font-size:4.4px;color:#424242;text-align:center;font-weight:normal;letter-spacing:0.15px;white-space:nowrap;font-family:'Liberation Sans', sans-serif;-webkit-text-stroke:0.07px #424242">$</div>
<div class="a" style="left:628.50px;top:212.43px;width:6.00px;height:5.28px;line-height:5.28px;font-size:4.4px;color:#424242;text-align:center;font-weight:normal;letter-spacing:0.15px;white-space:nowrap;font-family:'Liberation Sans', sans-serif;-webkit-text-stroke:0.07px #424242">$</div>
<div class="a" style="left:538.60px;top:212.43px;width:40.00px;height:5.28px;line-height:5.28px;font-size:4.4px;color:#424242;text-align:center;font-weight:normal;letter-spacing:0.15px;white-space:nowrap;font-family:'Liberation Sans', sans-serif;-webkit-text-stroke:0.07px #424242">Credit Card 1</div>
<div class="a" style="left:580.90px;top:212.43px;width:10.00px;height:5.28px;line-height:5.28px;font-size:4.4px;color:#424242;text-align:center;font-weight:normal;letter-spacing:0.15px;white-space:nowrap;font-family:'Liberation Sans', sans-serif;-webkit-text-stroke:0.07px #424242">1</div>
<div class="a" style="left:604.40px;top:212.43px;width:24.00px;height:5.28px;line-height:5.28px;font-size:4.4px;color:#424242;text-align:left;font-weight:normal;letter-spacing:0.15px;white-space:nowrap;font-family:'Liberation Sans', sans-serif;-webkit-text-stroke:0.07px #424242">150.00</div>
<div class="a" style="left:638.30px;top:212.43px;width:24.00px;height:5.28px;line-height:5.28px;font-size:4.4px;color:#424242;text-align:left;font-weight:normal;letter-spacing:0.15px;white-space:nowrap;font-family:'Liberation Sans', sans-serif;-webkit-text-stroke:0.07px #424242">100.00</div>
<div class="a" style="left:534.2px;top:222.31px;width:4.1px;height:4.1px;border:0.5px solid #bcdbe2;background:#dfeff2"></div>
<div class="a" style="left:594.70px;top:221.37px;width:6.00px;height:5.28px;line-height:5.28px;font-size:4.4px;color:#424242;text-align:center;font-weight:normal;letter-spacing:0.15px;white-space:nowrap;font-family:'Liberation Sans', sans-serif;-webkit-text-stroke:0.07px #424242">$</div>
<div class="a" style="left:628.50px;top:221.37px;width:6.00px;height:5.28px;line-height:5.28px;font-size:4.4px;color:#424242;text-align:center;font-weight:normal;letter-spacing:0.15px;white-space:nowrap;font-family:'Liberation Sans', sans-serif;-webkit-text-stroke:0.07px #424242">$</div>
<div class="a" style="left:538.60px;top:221.37px;width:40.00px;height:5.28px;line-height:5.28px;font-size:4.4px;color:#424242;text-align:center;font-weight:normal;letter-spacing:0.15px;white-space:nowrap;font-family:'Liberation Sans', sans-serif;-webkit-text-stroke:0.07px #424242">Credit Card 2</div>
<div class="a" style="left:580.90px;top:221.37px;width:10.00px;height:5.28px;line-height:5.28px;font-size:4.4px;color:#424242;text-align:center;font-weight:normal;letter-spacing:0.15px;white-space:nowrap;font-family:'Liberation Sans', sans-serif;-webkit-text-stroke:0.07px #424242">5</div>
<div class="a" style="left:604.40px;top:221.37px;width:24.00px;height:5.28px;line-height:5.28px;font-size:4.4px;color:#424242;text-align:left;font-weight:normal;letter-spacing:0.15px;white-space:nowrap;font-family:'Liberation Sans', sans-serif;-webkit-text-stroke:0.07px #424242">150.00</div>
<div class="a" style="left:638.30px;top:221.37px;width:24.00px;height:5.28px;line-height:5.28px;font-size:4.4px;color:#424242;text-align:left;font-weight:normal;letter-spacing:0.15px;white-space:nowrap;font-family:'Liberation Sans', sans-serif;-webkit-text-stroke:0.07px #424242">75.00</div>
<div class="a" style="left:534.2px;top:231.25px;width:4.1px;height:4.1px;border:0.5px solid #bcdbe2;background:#dfeff2"></div>
<div class="a" style="left:594.70px;top:230.31px;width:6.00px;height:5.28px;line-height:5.28px;font-size:4.4px;color:#424242;text-align:center;font-weight:normal;letter-spacing:0.15px;white-space:nowrap;font-family:'Liberation Sans', sans-serif;-webkit-text-stroke:0.07px #424242">$</div>
<div class="a" style="left:628.50px;top:230.31px;width:6.00px;height:5.28px;line-height:5.28px;font-size:4.4px;color:#424242;text-align:center;font-weight:normal;letter-spacing:0.15px;white-space:nowrap;font-family:'Liberation Sans', sans-serif;-webkit-text-stroke:0.07px #424242">$</div>
<div class="a" style="left:538.60px;top:230.31px;width:40.00px;height:5.28px;line-height:5.28px;font-size:4.4px;color:#424242;text-align:center;font-weight:normal;letter-spacing:0.15px;white-space:nowrap;font-family:'Liberation Sans', sans-serif;-webkit-text-stroke:0.07px #424242">Student Loan</div>
<div class="a" style="left:580.90px;top:230.31px;width:10.00px;height:5.28px;line-height:5.28px;font-size:4.4px;color:#424242;text-align:center;font-weight:normal;letter-spacing:0.15px;white-space:nowrap;font-family:'Liberation Sans', sans-serif;-webkit-text-stroke:0.07px #424242">7</div>
<div class="a" style="left:604.40px;top:230.31px;width:24.00px;height:5.28px;line-height:5.28px;font-size:4.4px;color:#424242;text-align:left;font-weight:normal;letter-spacing:0.15px;white-space:nowrap;font-family:'Liberation Sans', sans-serif;-webkit-text-stroke:0.07px #424242">150.00</div>
<div class="a" style="left:638.30px;top:230.31px;width:24.00px;height:5.28px;line-height:5.28px;font-size:4.4px;color:#424242;text-align:left;font-weight:normal;letter-spacing:0.15px;white-space:nowrap;font-family:'Liberation Sans', sans-serif;-webkit-text-stroke:0.07px #424242">100.00</div>
<div class="a" style="left:534.2px;top:240.19px;width:4.1px;height:4.1px;border:0.5px solid #bcdbe2;background:#dfeff2"></div>
<div class="a" style="left:594.70px;top:239.25px;width:6.00px;height:5.28px;line-height:5.28px;font-size:4.4px;color:#424242;text-align:center;font-weight:normal;letter-spacing:0.15px;white-space:nowrap;font-family:'Liberation Sans', sans-serif;-webkit-text-stroke:0.07px #424242">$</div>
<div class="a" style="left:628.50px;top:239.25px;width:6.00px;height:5.28px;line-height:5.28px;font-size:4.4px;color:#424242;text-align:center;font-weight:normal;letter-spacing:0.15px;white-space:nowrap;font-family:'Liberation Sans', sans-serif;-webkit-text-stroke:0.07px #424242">$</div>
<div class="a" style="left:538.60px;top:239.25px;width:40.00px;height:5.28px;line-height:5.28px;font-size:4.4px;color:#424242;text-align:center;font-weight:normal;letter-spacing:0.15px;white-space:nowrap;font-family:'Liberation Sans', sans-serif;-webkit-text-stroke:0.07px #424242">Loan #2</div>
<div class="a" style="left:580.90px;top:239.25px;width:10.00px;height:5.28px;line-height:5.28px;font-size:4.4px;color:#424242;text-align:center;font-weight:normal;letter-spacing:0.15px;white-space:nowrap;font-family:'Liberation Sans', sans-serif;-webkit-text-stroke:0.07px #424242">8</div>
<div class="a" style="left:604.40px;top:239.25px;width:24.00px;height:5.28px;line-height:5.28px;font-size:4.4px;color:#424242;text-align:left;font-weight:normal;letter-spacing:0.15px;white-space:nowrap;font-family:'Liberation Sans', sans-serif;-webkit-text-stroke:0.07px #424242">100.00</div>
<div class="a" style="left:638.30px;top:239.25px;width:24.00px;height:5.28px;line-height:5.28px;font-size:4.4px;color:#424242;text-align:left;font-weight:normal;letter-spacing:0.15px;white-space:nowrap;font-family:'Liberation Sans', sans-serif;-webkit-text-stroke:0.07px #424242">100.00</div>
<div class="a" style="left:534.2px;top:249.13px;width:4.1px;height:4.1px;border:0.5px solid #dedede;background:#fff"></div>
<div class="a" style="left:594.70px;top:248.19px;width:6.00px;height:5.28px;line-height:5.28px;font-size:4.4px;color:#424242;text-align:center;font-weight:normal;letter-spacing:0.15px;white-space:nowrap;font-family:'Liberation Sans', sans-serif;-webkit-text-stroke:0.07px #424242">$</div>
<div class="a" style="left:628.50px;top:248.19px;width:6.00px;height:5.28px;line-height:5.28px;font-size:4.4px;color:#424242;text-align:center;font-weight:normal;letter-spacing:0.15px;white-space:nowrap;font-family:'Liberation Sans', sans-serif;-webkit-text-stroke:0.07px #424242">$</div>
<div class="a" style="left:534.2px;top:258.07px;width:4.1px;height:4.1px;border:0.5px solid #dedede;background:#fff"></div>
<div class="a" style="left:594.70px;top:257.13px;width:6.00px;height:5.28px;line-height:5.28px;font-size:4.4px;color:#424242;text-align:center;font-weight:normal;letter-spacing:0.15px;white-space:nowrap;font-family:'Liberation Sans', sans-serif;-webkit-text-stroke:0.07px #424242">$</div>
<div class="a" style="left:628.50px;top:257.13px;width:6.00px;height:5.28px;line-height:5.28px;font-size:4.4px;color:#424242;text-align:center;font-weight:normal;letter-spacing:0.15px;white-space:nowrap;font-family:'Liberation Sans', sans-serif;-webkit-text-stroke:0.07px #424242">$</div>
<div class="a" style="left:534.2px;top:267.01px;width:4.1px;height:4.1px;border:0.5px solid #dedede;background:#fff"></div>
<div class="a" style="left:594.70px;top:266.07px;width:6.00px;height:5.28px;line-height:5.28px;font-size:4.4px;color:#424242;text-align:center;font-weight:normal;letter-spacing:0.15px;white-space:nowrap;font-family:'Liberation Sans', sans-serif;-webkit-text-stroke:0.07px #424242">$</div>
<div class="a" style="left:628.50px;top:266.07px;width:6.00px;height:5.28px;line-height:5.28px;font-size:4.4px;color:#424242;text-align:center;font-weight:normal;letter-spacing:0.15px;white-space:nowrap;font-family:'Liberation Sans', sans-serif;-webkit-text-stroke:0.07px #424242">$</div>
<div class="a" style="left:534.2px;top:275.95px;width:4.1px;height:4.1px;border:0.5px solid #dedede;background:#fff"></div>
<div class="a" style="left:594.70px;top:275.01px;width:6.00px;height:5.28px;line-height:5.28px;font-size:4.4px;color:#424242;text-align:center;font-weight:normal;letter-spacing:0.15px;white-space:nowrap;font-family:'Liberation Sans', sans-serif;-webkit-text-stroke:0.07px #424242">$</div>
<div class="a" style="left:628.50px;top:275.01px;width:6.00px;height:5.28px;line-height:5.28px;font-size:4.4px;color:#424242;text-align:center;font-weight:normal;letter-spacing:0.15px;white-space:nowrap;font-family:'Liberation Sans', sans-serif;-webkit-text-stroke:0.07px #424242">$</div>
<div class="a" style="left:534.2px;top:284.89px;width:4.1px;height:4.1px;border:0.5px solid #dedede;background:#fff"></div>
<div class="a" style="left:594.70px;top:283.95px;width:6.00px;height:5.28px;line-height:5.28px;font-size:4.4px;color:#424242;text-align:center;font-weight:normal;letter-spacing:0.15px;white-space:nowrap;font-family:'Liberation Sans', sans-serif;-webkit-text-stroke:0.07px #424242">$</div>
<div class="a" style="left:628.50px;top:283.95px;width:6.00px;height:5.28px;line-height:5.28px;font-size:4.4px;color:#424242;text-align:center;font-weight:normal;letter-spacing:0.15px;white-space:nowrap;font-family:'Liberation Sans', sans-serif;-webkit-text-stroke:0.07px #424242">$</div>
<div class="a" style="left:534.2px;top:293.83px;width:4.1px;height:4.1px;border:0.5px solid #dedede;background:#fff"></div>
<div class="a" style="left:594.70px;top:292.89px;width:6.00px;height:5.28px;line-height:5.28px;font-size:4.4px;color:#424242;text-align:center;font-weight:normal;letter-spacing:0.15px;white-space:nowrap;font-family:'Liberation Sans', sans-serif;-webkit-text-stroke:0.07px #424242">$</div>
<div class="a" style="left:628.50px;top:292.89px;width:6.00px;height:5.28px;line-height:5.28px;font-size:4.4px;color:#424242;text-align:center;font-weight:normal;letter-spacing:0.15px;white-space:nowrap;font-family:'Liberation Sans', sans-serif;-webkit-text-stroke:0.07px #424242">$</div>
<div class="a" style="left:534.2px;top:302.77px;width:4.1px;height:4.1px;border:0.5px solid #dedede;background:#fff"></div>
<div class="a" style="left:594.70px;top:301.83px;width:6.00px;height:5.28px;line-height:5.28px;font-size:4.4px;color:#424242;text-align:center;font-weight:normal;letter-spacing:0.15px;white-space:nowrap;font-family:'Liberation Sans', sans-serif;-webkit-text-stroke:0.07px #424242">$</div>
<div class="a" style="left:628.50px;top:301.83px;width:6.00px;height:5.28px;line-height:5.28px;font-size:4.4px;color:#424242;text-align:center;font-weight:normal;letter-spacing:0.15px;white-space:nowrap;font-family:'Liberation Sans', sans-serif;-webkit-text-stroke:0.07px #424242">$</div>
<div class="a" style="left:534.2px;top:311.71px;width:4.1px;height:4.1px;border:0.5px solid #dedede;background:#fff"></div>
<div class="a" style="left:594.70px;top:310.77px;width:6.00px;height:5.28px;line-height:5.28px;font-size:4.4px;color:#424242;text-align:center;font-weight:normal;letter-spacing:0.15px;white-space:nowrap;font-family:'Liberation Sans', sans-serif;-webkit-text-stroke:0.07px #424242">$</div>
<div class="a" style="left:628.50px;top:310.77px;width:6.00px;height:5.28px;line-height:5.28px;font-size:4.4px;color:#424242;text-align:center;font-weight:normal;letter-spacing:0.15px;white-space:nowrap;font-family:'Liberation Sans', sans-serif;-webkit-text-stroke:0.07px #424242">$</div>
<div class="a" style="left:534.2px;top:320.65px;width:4.1px;height:4.1px;border:0.5px solid #dedede;background:#fff"></div>
<div class="a" style="left:594.70px;top:319.71px;width:6.00px;height:5.28px;line-height:5.28px;font-size:4.4px;color:#424242;text-align:center;font-weight:normal;letter-spacing:0.15px;white-space:nowrap;font-family:'Liberation Sans', sans-serif;-webkit-text-stroke:0.07px #424242">$</div>
<div class="a" style="left:628.50px;top:319.71px;width:6.00px;height:5.28px;line-height:5.28px;font-size:4.4px;color:#424242;text-align:center;font-weight:normal;letter-spacing:0.15px;white-space:nowrap;font-family:'Liberation Sans', sans-serif;-webkit-text-stroke:0.07px #424242">$</div>
<div class="a" style="left:534.2px;top:329.59px;width:4.1px;height:4.1px;border:0.5px solid #dedede;background:#fff"></div>
<div class="a" style="left:594.70px;top:328.65px;width:6.00px;height:5.28px;line-height:5.28px;font-size:4.4px;color:#424242;text-align:center;font-weight:normal;letter-spacing:0.15px;white-space:nowrap;font-family:'Liberation Sans', sans-serif;-webkit-text-stroke:0.07px #424242">$</div>
<div class="a" style="left:628.50px;top:328.65px;width:6.00px;height:5.28px;line-height:5.28px;font-size:4.4px;color:#424242;text-align:center;font-weight:normal;letter-spacing:0.15px;white-space:nowrap;font-family:'Liberation Sans', sans-serif;-webkit-text-stroke:0.07px #424242">$</div>
<div class="a" style="left:534.2px;top:338.53px;width:4.1px;height:4.1px;border:0.5px solid #dedede;background:#fff"></div>
<div class="a" style="left:594.70px;top:337.59px;width:6.00px;height:5.28px;line-height:5.28px;font-size:4.4px;color:#424242;text-align:center;font-weight:normal;letter-spacing:0.15px;white-space:nowrap;font-family:'Liberation Sans', sans-serif;-webkit-text-stroke:0.07px #424242">$</div>
<div class="a" style="left:628.50px;top:337.59px;width:6.00px;height:5.28px;line-height:5.28px;font-size:4.4px;color:#424242;text-align:center;font-weight:normal;letter-spacing:0.15px;white-space:nowrap;font-family:'Liberation Sans', sans-serif;-webkit-text-stroke:0.07px #424242">$</div>
<div class="a" style="left:534.2px;top:347.47px;width:4.1px;height:4.1px;border:0.5px solid #dedede;background:#fff"></div>
<div class="a" style="left:594.70px;top:346.53px;width:6.00px;height:5.28px;line-height:5.28px;font-size:4.4px;color:#424242;text-align:center;font-weight:normal;letter-spacing:0.15px;white-space:nowrap;font-family:'Liberation Sans', sans-serif;-webkit-text-stroke:0.07px #424242">$</div>
<div class="a" style="left:628.50px;top:346.53px;width:6.00px;height:5.28px;line-height:5.28px;font-size:4.4px;color:#424242;text-align:center;font-weight:normal;letter-spacing:0.15px;white-space:nowrap;font-family:'Liberation Sans', sans-serif;-webkit-text-stroke:0.07px #424242">$</div>
<div class="a" style="left:534.2px;top:356.41px;width:4.1px;height:4.1px;border:0.5px solid #dedede;background:#fff"></div>
<div class="a" style="left:594.70px;top:355.47px;width:6.00px;height:5.28px;line-height:5.28px;font-size:4.4px;color:#424242;text-align:center;font-weight:normal;letter-spacing:0.15px;white-space:nowrap;font-family:'Liberation Sans', sans-serif;-webkit-text-stroke:0.07px #424242">$</div>
<div class="a" style="left:628.50px;top:355.47px;width:6.00px;height:5.28px;line-height:5.28px;font-size:4.4px;color:#424242;text-align:center;font-weight:normal;letter-spacing:0.15px;white-space:nowrap;font-family:'Liberation Sans', sans-serif;-webkit-text-stroke:0.07px #424242">$</div>
<div class="a" style="left:534.2px;top:365.35px;width:4.1px;height:4.1px;border:0.5px solid #dedede;background:#fff"></div>
<div class="a" style="left:594.70px;top:364.41px;width:6.00px;height:5.28px;line-height:5.28px;font-size:4.4px;color:#424242;text-align:center;font-weight:normal;letter-spacing:0.15px;white-space:nowrap;font-family:'Liberation Sans', sans-serif;-webkit-text-stroke:0.07px #424242">$</div>
<div class="a" style="left:628.50px;top:364.41px;width:6.00px;height:5.28px;line-height:5.28px;font-size:4.4px;color:#424242;text-align:center;font-weight:normal;letter-spacing:0.15px;white-space:nowrap;font-family:'Liberation Sans', sans-serif;-webkit-text-stroke:0.07px #424242">$</div>
<div class="a" style="left:534.2px;top:374.29px;width:4.1px;height:4.1px;border:0.5px solid #dedede;background:#fff"></div>
<div class="a" style="left:594.70px;top:373.35px;width:6.00px;height:5.28px;line-height:5.28px;font-size:4.4px;color:#424242;text-align:center;font-weight:normal;letter-spacing:0.15px;white-space:nowrap;font-family:'Liberation Sans', sans-serif;-webkit-text-stroke:0.07px #424242">$</div>
<div class="a" style="left:628.50px;top:373.35px;width:6.00px;height:5.28px;line-height:5.28px;font-size:4.4px;color:#424242;text-align:center;font-weight:normal;letter-spacing:0.15px;white-space:nowrap;font-family:'Liberation Sans', sans-serif;-webkit-text-stroke:0.07px #424242">$</div>
<div class="a" style="left:534.2px;top:383.23px;width:4.1px;height:4.1px;border:0.5px solid #dedede;background:#fff"></div>
<div class="a" style="left:594.70px;top:382.29px;width:6.00px;height:5.28px;line-height:5.28px;font-size:4.4px;color:#424242;text-align:center;font-weight:normal;letter-spacing:0.15px;white-space:nowrap;font-family:'Liberation Sans', sans-serif;-webkit-text-stroke:0.07px #424242">$</div>
<div class="a" style="left:628.50px;top:382.29px;width:6.00px;height:5.28px;line-height:5.28px;font-size:4.4px;color:#424242;text-align:center;font-weight:normal;letter-spacing:0.15px;white-space:nowrap;font-family:'Liberation Sans', sans-serif;-webkit-text-stroke:0.07px #424242">$</div>
<div class="a" style="left:534.2px;top:392.17px;width:4.1px;height:4.1px;border:0.5px solid #dedede;background:#fff"></div>
<div class="a" style="left:594.70px;top:391.23px;width:6.00px;height:5.28px;line-height:5.28px;font-size:4.4px;color:#424242;text-align:center;font-weight:normal;letter-spacing:0.15px;white-space:nowrap;font-family:'Liberation Sans', sans-serif;-webkit-text-stroke:0.07px #424242">$</div>
<div class="a" style="left:628.50px;top:391.23px;width:6.00px;height:5.28px;line-height:5.28px;font-size:4.4px;color:#424242;text-align:center;font-weight:normal;letter-spacing:0.15px;white-space:nowrap;font-family:'Liberation Sans', sans-serif;-webkit-text-stroke:0.07px #424242">$</div>
<div class="a" style="left:534.2px;top:401.11px;width:4.1px;height:4.1px;border:0.5px solid #dedede;background:#fff"></div>
<div class="a" style="left:594.70px;top:400.17px;width:6.00px;height:5.28px;line-height:5.28px;font-size:4.4px;color:#424242;text-align:center;font-weight:normal;letter-spacing:0.15px;white-space:nowrap;font-family:'Liberation Sans', sans-serif;-webkit-text-stroke:0.07px #424242">$</div>
<div class="a" style="left:628.50px;top:400.17px;width:6.00px;height:5.28px;line-height:5.28px;font-size:4.4px;color:#424242;text-align:center;font-weight:normal;letter-spacing:0.15px;white-space:nowrap;font-family:'Liberation Sans', sans-serif;-webkit-text-stroke:0.07px #424242">$</div>
<div class="a" style="left:534.2px;top:410.05px;width:4.1px;height:4.1px;border:0.5px solid #dedede;background:#fff"></div>
<div class="a" style="left:594.70px;top:409.11px;width:6.00px;height:5.28px;line-height:5.28px;font-size:4.4px;color:#424242;text-align:center;font-weight:normal;letter-spacing:0.15px;white-space:nowrap;font-family:'Liberation Sans', sans-serif;-webkit-text-stroke:0.07px #424242">$</div>
<div class="a" style="left:628.50px;top:409.11px;width:6.00px;height:5.28px;line-height:5.28px;font-size:4.4px;color:#424242;text-align:center;font-weight:normal;letter-spacing:0.15px;white-space:nowrap;font-family:'Liberation Sans', sans-serif;-webkit-text-stroke:0.07px #424242">$</div>
<div class="a" style="left:534.2px;top:418.99px;width:4.1px;height:4.1px;border:0.5px solid #dedede;background:#fff"></div>
<div class="a" style="left:594.70px;top:418.05px;width:6.00px;height:5.28px;line-height:5.28px;font-size:4.4px;color:#424242;text-align:center;font-weight:normal;letter-spacing:0.15px;white-space:nowrap;font-family:'Liberation Sans', sans-serif;-webkit-text-stroke:0.07px #424242">$</div>
<div class="a" style="left:628.50px;top:418.05px;width:6.00px;height:5.28px;line-height:5.28px;font-size:4.4px;color:#424242;text-align:center;font-weight:normal;letter-spacing:0.15px;white-space:nowrap;font-family:'Liberation Sans', sans-serif;-webkit-text-stroke:0.07px #424242">$</div>
</div></div>
<svg class="a" style="left:0;top:0" width="778" height="438" viewBox="0 0 778 438">
<defs>
<filter id="soft" x="-5%" y="-5%" width="110%" height="110%"><feGaussianBlur stdDeviation="0.45"/></filter>
<linearGradient id="lg1" x1="60" y1="170" x2="20" y2="320" gradientUnits="userSpaceOnUse">
<stop offset="0" stop-color="#5b7d50"/><stop offset="0.45" stop-color="#527449"/><stop offset="1" stop-color="#42603b"/>
</linearGradient>
<linearGradient id="lg1b" x1="70" y1="210" x2="88" y2="265" gradientUnits="userSpaceOnUse">
<stop offset="0" stop-color="#5c7e50"/><stop offset="1" stop-color="#6a865c"/>
</linearGradient>
<linearGradient id="lg2" x1="30" y1="325" x2="70" y2="425" gradientUnits="userSpaceOnUse">
<stop offset="0" stop-color="#587852"/><stop offset="0.5" stop-color="#4c6c45"/><stop offset="1" stop-color="#46653f"/>
</linearGradient>
<radialGradient id="hl"><stop offset="0" stop-color="#88a47c" stop-opacity="0.45"/><stop offset="1" stop-color="#88a47c" stop-opacity="0"/></radialGradient>
<pattern id="varA" width="3.2" height="3.2" patternUnits="userSpaceOnUse" patternTransform="rotate(-55)">
<rect width="3.2" height="3.2" fill="#456537"/><rect width="3.2" height="1.0" fill="#859f58"/>
</pattern>
<pattern id="varB" width="3.2" height="3.2" patternUnits="userSpaceOnUse" patternTransform="rotate(62)">
<rect width="3.2" height="3.2" fill="#5c7c45"/><rect width="3.2" height="1.3" fill="#a6bb6a"/>
</pattern>
<pattern id="varC" width="3.2" height="3.2" patternUnits="userSpaceOnUse" patternTransform="rotate(75)">
<rect width="3.2" height="3.2" fill="#55763f"/><rect width="3.2" height="1.1" fill="#9db563"/>
</pattern>
<pattern id="varD" width="3.4" height="3.4" patternUnits="userSpaceOnUse" patternTransform="rotate(-20)">
<rect width="3.4" height="3.4" fill="#5d7a52"/><rect width="3.4" height="1.0" fill="#97ac7e"/>
</pattern>
<pattern id="varE" width="3.4" height="3.4" patternUnits="userSpaceOnUse" patternTransform="rotate(-35)">
<rect width="3.4" height="3.4" fill="#4c6a44"/><rect width="3.4" height="0.9" fill="#7f9a72"/>
</pattern>
</defs>
<g filter="url(#soft)">
<!-- left plant -->
<path d="M55.5,314.4 L61.6,311 C68,314 74,318 80,320.5 L88,318 L88,332 L60,334 Z" fill="#5f765a"/>
<path d="M0,349 C7,350 13,352 18,352 C22,351 25,350 27,347 C27,341 27,335 29,331 C32,327 34,325.5 37,324.7 C40,324 43,323.6 45.2,323.6 C49,325 51,327 53.4,328.8 C56,331 58,333 60.6,333 C64,332.5 67,332 70,331.8 C74,331 77,329.5 80,328.8 L88,327 L88,421.5 C86,421.5 85,421.5 83.8,421.5 C79,422.5 75,423.3 71.3,423.3 C67,422.5 63,421.5 58.8,420.6 C55,418 52,416 48.1,413.5 C44,411 40,408.5 35.6,406.3 C31,404 27,402 23.2,400.1 C17,397 12,394 7.1,391.2 C4,389 2,386 0,383.2 Z" fill="url(#lg2)"/>
<path d="M0,215 C3,206 8,199 12,196 C15,193 16,190 17.5,188 C22,182 27,178 38,172.3 C41,170 43,168.6 44,168.6 C50,169 58,171 64.7,174.4 C67,178 69,185 70.9,193 C70,198 68,202 67.8,208 C67.5,214 67.8,219.6 70,220.6 C75,216 80,212 88,208 L88,266.7 L85,267 C80,270 76,273 73,276 C70,281 68,285 65.7,287.3 C62,291 58,295 55.5,297.5 C52,301 48,306 44,310.3 C39,315 35,320 30.8,323.6 C27,327 23,330 20.5,329.8 C15,327 11,325 8,322.6 C5,321 2,319.5 0,318.5 Z" fill="url(#lg1)"/>
<path d="M67.8,219.6 C72,240 74,256 73,276 L85,267 L88,266.7 L88,208 C80,212 75,216 70,220.6 Z" fill="url(#lg1b)" opacity="0.8"/>
<ellipse cx="45" cy="240" rx="24" ry="34" fill="url(#hl)" transform="rotate(35 45 240)"/>
<ellipse cx="55" cy="368" rx="26" ry="16" fill="url(#hl)" transform="rotate(-30 55 368)"/>
<path d="M12,300 C30,270 48,240 66,212" stroke="#6a8e58" stroke-width="1.4" fill="none" opacity="0.45"/>
<path d="M50.3,302 C54,312 57,322 60.6,330.8" stroke="#40583a" stroke-width="1.4" fill="none"/>
<path d="M16,353.5 L32,352" stroke="#7d8a75" stroke-width="1.6" fill="none"/>
<path d="M40,385 C55,370 70,350 86,335" stroke="#668a55" stroke-width="1.2" fill="none" opacity="0.4"/>
<path d="M50,414 C54,422 57,430 59.5,438" stroke="#56753f" stroke-width="4.6" fill="none"/>
<path d="M77,425 L81.5,438" stroke="#587741" stroke-width="3.6" fill="none"/>
<path d="M83.6,262 L83.6,438" stroke="#66745f" stroke-width="2.2" fill="none"/>
<!-- right plant -->
<path d="M707.3,227 C705,231 702,238 697.7,242 C694,246 691,249 689,252 L689,385 L693.5,385 C696,380 698,376 700,372 C704,366 707,362 708.4,359.4 C710,353 711,348 711.5,342.5 C712,335 712.4,330 712.6,325.5 C711,315 709,305 707.3,300.4 C706,296 705,292 705,288.7 C704.5,280 704,273 704,267.5 C704,258 704.5,252 705,246 C705.5,238 706.5,232 707.3,227 Z" fill="url(#varA)"/>
<path d="M707.3,300.4 C712,297 716,295 721,293 C730,290 738,288 744.4,287.6 C750,287.5 755,288.5 759.3,289.8 C765,291 771,293 778,295 L778,317 C768,317 756,317.5 746.6,318 C740,319 733,320 727.5,321.2 C722,322.5 717,324 712.6,325.5 Z" fill="url(#varB)"/>
<path d="M712,312 C735,300 755,297 778,304" stroke="#4d6e3a" stroke-width="1" fill="none" opacity="0.7"/>
<path d="M719,372.2 C722,368 724,365 727.5,361.6 C733,357 738,352 744.4,348.8 C750,346 756,343 761.4,341.4 C767,340 772,338 778,337 L778,353 C768,356 758,358 748.7,361.6 C740,365 733,367 727.5,370 Z" fill="url(#varC)"/>
<path d="M723,370.5 C731,371.5 739,374 745,377.5 C750,382 754,386 757.6,392 C761,397 764,401 766.6,406 C769,410 771,414 772,419 L766,421 C762,419 758,417 754,413.6 C752,407 750.5,401 748.6,395.5 C746,390 742,386 737.8,383 C734,380 730,377 727,374.6 Z" fill="url(#varD)"/>
<path d="M689,397 L695.7,395.6 C700,394 704,393 708,393 C712,393 716,394 720.6,394.7 C726,397 730,400 733,402.8 C734,405 735,408 735,411.7 C735,418 736,428 737,438 L689,438 Z" fill="url(#varE)"/>
<path d="M726,418.8 C732,416 738,414 743.8,412.6 C749,412 754,411.8 759.8,411.7 C766,411.3 772,411 778,410.8 L778,438 L724,438 C724,430 725,424 726,418.8 Z" fill="url(#varB)"/>
<path d="M692.5,350 L692.5,438" stroke="#4a663d" stroke-width="7" fill="none"/>
<path d="M719.7,372.5 C712,380 704,390 699,401" stroke="#52703f" stroke-width="2" fill="none"/>
<path d="M719.7,372.5 C716,395 714,415 711.7,438" stroke="#52703f" stroke-width="2.5" fill="none"/>
</g>
</svg>
</body></html>
